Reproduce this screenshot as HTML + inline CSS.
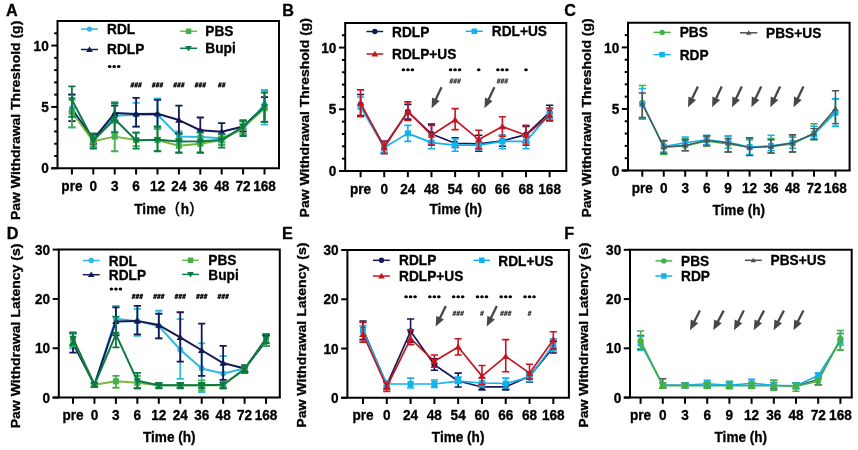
<!DOCTYPE html>
<html><head><meta charset="utf-8"><title>Figure</title>
<style>html,body{margin:0;padding:0;background:#fff;width:858px;height:450px;overflow:hidden}</style>
</head><body>
<svg width="858" height="450" viewBox="0 0 858 450" style="display:block;will-change:transform">
<rect width="858" height="450" fill="#fff"/>
<g font-family='"Liberation Sans", sans-serif'>
<path d="M57.5,168.3V21H279V168.3" fill="none" stroke="#000" stroke-width="2.0"/>
<line x1="51.3" y1="168.3" x2="280" y2="168.3" stroke="#000" stroke-width="2.0"/>
<line x1="51.3" y1="168.30" x2="57.5" y2="168.30" stroke="#000" stroke-width="2.0"/>
<text transform="translate(48.70,173.40) scale(1,1.1)" font-size="13.6" text-anchor="end" font-weight="bold" fill="#000" stroke="#000" stroke-width="0.3" >0</text>
<line x1="51.3" y1="106.93" x2="57.5" y2="106.93" stroke="#000" stroke-width="2.0"/>
<text transform="translate(48.70,112.03) scale(1,1.1)" font-size="13.6" text-anchor="end" font-weight="bold" fill="#000" stroke="#000" stroke-width="0.3" >5</text>
<line x1="51.3" y1="45.55" x2="57.5" y2="45.55" stroke="#000" stroke-width="2.0"/>
<text transform="translate(48.70,50.65) scale(1,1.1)" font-size="13.6" text-anchor="end" font-weight="bold" fill="#000" stroke="#000" stroke-width="0.3" >10</text>
<line x1="54.2" y1="156.03" x2="57.5" y2="156.03" stroke="#000" stroke-width="2.0"/>
<line x1="54.2" y1="143.75" x2="57.5" y2="143.75" stroke="#000" stroke-width="2.0"/>
<line x1="54.2" y1="131.48" x2="57.5" y2="131.48" stroke="#000" stroke-width="2.0"/>
<line x1="54.2" y1="119.20" x2="57.5" y2="119.20" stroke="#000" stroke-width="2.0"/>
<line x1="54.2" y1="94.65" x2="57.5" y2="94.65" stroke="#000" stroke-width="2.0"/>
<line x1="54.2" y1="82.38" x2="57.5" y2="82.38" stroke="#000" stroke-width="2.0"/>
<line x1="54.2" y1="70.10" x2="57.5" y2="70.10" stroke="#000" stroke-width="2.0"/>
<line x1="54.2" y1="57.83" x2="57.5" y2="57.83" stroke="#000" stroke-width="2.0"/>
<line x1="54.2" y1="33.28" x2="57.5" y2="33.28" stroke="#000" stroke-width="2.0"/>
<line x1="71.90" y1="168.3" x2="71.90" y2="174.5" stroke="#000" stroke-width="2.0"/>
<text transform="translate(71.90,190.80) scale(1,1.1)" font-size="13.6" text-anchor="middle" font-weight="bold" fill="#000" stroke="#000" stroke-width="0.3" >pre</text>
<line x1="93.30" y1="168.3" x2="93.30" y2="174.5" stroke="#000" stroke-width="2.0"/>
<text transform="translate(93.30,190.80) scale(1,1.1)" font-size="13.6" text-anchor="middle" font-weight="bold" fill="#000" stroke="#000" stroke-width="0.3" >0</text>
<line x1="114.70" y1="168.3" x2="114.70" y2="174.5" stroke="#000" stroke-width="2.0"/>
<text transform="translate(114.70,190.80) scale(1,1.1)" font-size="13.6" text-anchor="middle" font-weight="bold" fill="#000" stroke="#000" stroke-width="0.3" >3</text>
<line x1="136.10" y1="168.3" x2="136.10" y2="174.5" stroke="#000" stroke-width="2.0"/>
<text transform="translate(136.10,190.80) scale(1,1.1)" font-size="13.6" text-anchor="middle" font-weight="bold" fill="#000" stroke="#000" stroke-width="0.3" >6</text>
<line x1="157.50" y1="168.3" x2="157.50" y2="174.5" stroke="#000" stroke-width="2.0"/>
<text transform="translate(157.50,190.80) scale(1,1.1)" font-size="13.6" text-anchor="middle" font-weight="bold" fill="#000" stroke="#000" stroke-width="0.3" >12</text>
<line x1="178.90" y1="168.3" x2="178.90" y2="174.5" stroke="#000" stroke-width="2.0"/>
<text transform="translate(178.90,190.80) scale(1,1.1)" font-size="13.6" text-anchor="middle" font-weight="bold" fill="#000" stroke="#000" stroke-width="0.3" >24</text>
<line x1="200.30" y1="168.3" x2="200.30" y2="174.5" stroke="#000" stroke-width="2.0"/>
<text transform="translate(200.30,190.80) scale(1,1.1)" font-size="13.6" text-anchor="middle" font-weight="bold" fill="#000" stroke="#000" stroke-width="0.3" >36</text>
<line x1="221.70" y1="168.3" x2="221.70" y2="174.5" stroke="#000" stroke-width="2.0"/>
<text transform="translate(221.70,190.80) scale(1,1.1)" font-size="13.6" text-anchor="middle" font-weight="bold" fill="#000" stroke="#000" stroke-width="0.3" >48</text>
<line x1="243.10" y1="168.3" x2="243.10" y2="174.5" stroke="#000" stroke-width="2.0"/>
<text transform="translate(243.10,190.80) scale(1,1.1)" font-size="13.6" text-anchor="middle" font-weight="bold" fill="#000" stroke="#000" stroke-width="0.3" >72</text>
<line x1="264.50" y1="168.3" x2="264.50" y2="174.5" stroke="#000" stroke-width="2.0"/>
<text transform="translate(264.50,190.80) scale(1,1.1)" font-size="13.6" text-anchor="middle" font-weight="bold" fill="#000" stroke="#000" stroke-width="0.3" >168</text>
<text transform="translate(6.00,15.70) scale(1,1.04)" font-size="16.2" text-anchor="start" font-weight="bold" fill="#000" stroke="#000" stroke-width="0.3" >A</text>
<text transform="translate(20.40,220.00) rotate(-90)" x="0" y="0" font-size="12.9" font-weight="bold" stroke="#000" stroke-width="0.3" textLength="199.3" lengthAdjust="spacingAndGlyphs">Paw Withdrawal Threshold (g)</text>
<text transform="translate(134.30,213.50) scale(1,1.1)" font-size="13.6" text-anchor="start" font-weight="bold" fill="#000" stroke="#000" stroke-width="0.3" >Time</text>
<text transform="translate(175.10,213.10) scale(1,1.1)" font-size="13.6" text-anchor="start" font-weight="normal" fill="#000" stroke="#000" stroke-width="0.45">(</text>
<text transform="translate(180.80,213.50) scale(1,1.1)" font-size="13.6" text-anchor="start" font-weight="bold" fill="#000" stroke="#000" stroke-width="0.3" >h</text>
<text transform="translate(189.80,213.10) scale(1,1.1)" font-size="13.6" text-anchor="start" font-weight="normal" fill="#000" stroke="#000" stroke-width="0.45">)</text>
<line x1="81" y1="29.1" x2="98" y2="29.1" stroke="#2cb9e4" stroke-width="1.5"/>
<circle cx="89.50" cy="29.10" r="2.70" fill="#2cb9e4"/>
<text transform="translate(107.00,34.20) scale(1,1.1)" font-size="13.7" text-anchor="start" font-weight="bold" fill="#000" stroke="#000" stroke-width="0.3" >RDL</text>
<line x1="81" y1="49.5" x2="98" y2="49.5" stroke="#131a56" stroke-width="1.5"/>
<path d="M89.50,46.30L92.86,51.90L86.14,51.90Z" fill="#131a56"/>
<text transform="translate(107.00,54.40) scale(1,1.1)" font-size="13.7" text-anchor="start" font-weight="bold" fill="#000" stroke="#000" stroke-width="0.3" >RDLP</text>
<line x1="180" y1="31.3" x2="197" y2="31.3" stroke="#78b640" stroke-width="1.5"/>
<rect x="185.75" y="28.55" width="5.50" height="5.50" fill="#45b048"/>
<text transform="translate(205.30,35.70) scale(1,1.1)" font-size="13.7" text-anchor="start" font-weight="bold" fill="#000" stroke="#000" stroke-width="0.3" >PBS</text>
<line x1="180" y1="48.3" x2="197" y2="48.3" stroke="#0b7a44" stroke-width="1.5"/>
<path d="M188.50,51.50L191.86,45.90L185.14,45.90Z" fill="#0b7a44"/>
<text transform="translate(205.30,53.20) scale(1,1.1)" font-size="13.7" text-anchor="start" font-weight="bold" fill="#000" stroke="#000" stroke-width="0.3" >Bupi</text>
<ellipse cx="109.70" cy="66.60" rx="1.8" ry="1.5" fill="#000"/>
<ellipse cx="114.20" cy="66.60" rx="1.8" ry="1.5" fill="#000"/>
<ellipse cx="118.70" cy="66.60" rx="1.8" ry="1.5" fill="#000"/>
<path d="M132.40,82.40L131.00,87.40M133.80,82.40L132.40,87.40M130.80,83.95H134.20M130.40,85.85H133.80M136.20,82.40L134.80,87.40M137.60,82.40L136.20,87.40M134.60,83.95H138.00M134.20,85.85H137.60M140.00,82.40L138.60,87.40M141.40,82.40L140.00,87.40M138.40,83.95H141.80M138.00,85.85H141.40" stroke="#151515" stroke-width="1.1" fill="none"/>
<path d="M153.80,82.40L152.40,87.40M155.20,82.40L153.80,87.40M152.20,83.95H155.60M151.80,85.85H155.20M157.60,82.40L156.20,87.40M159.00,82.40L157.60,87.40M156.00,83.95H159.40M155.60,85.85H159.00M161.40,82.40L160.00,87.40M162.80,82.40L161.40,87.40M159.80,83.95H163.20M159.40,85.85H162.80" stroke="#151515" stroke-width="1.1" fill="none"/>
<path d="M175.20,82.40L173.80,87.40M176.60,82.40L175.20,87.40M173.60,83.95H177.00M173.20,85.85H176.60M179.00,82.40L177.60,87.40M180.40,82.40L179.00,87.40M177.40,83.95H180.80M177.00,85.85H180.40M182.80,82.40L181.40,87.40M184.20,82.40L182.80,87.40M181.20,83.95H184.60M180.80,85.85H184.20" stroke="#151515" stroke-width="1.1" fill="none"/>
<path d="M196.60,82.40L195.20,87.40M198.00,82.40L196.60,87.40M195.00,83.95H198.40M194.60,85.85H198.00M200.40,82.40L199.00,87.40M201.80,82.40L200.40,87.40M198.80,83.95H202.20M198.40,85.85H201.80M204.20,82.40L202.80,87.40M205.60,82.40L204.20,87.40M202.60,83.95H206.00M202.20,85.85H205.60" stroke="#151515" stroke-width="1.1" fill="none"/>
<path d="M219.90,82.40L218.50,87.40M221.30,82.40L219.90,87.40M218.30,83.95H221.70M217.90,85.85H221.30M223.70,82.40L222.30,87.40M225.10,82.40L223.70,87.40M222.10,83.95H225.50M221.70,85.85H225.10" stroke="#151515" stroke-width="1.1" fill="none"/>
<path d="M71.90,127.30V94.40M68.30,127.30H75.50M68.30,94.40H75.50" stroke="#2cb9e4" stroke-width="1.8" fill="none"/>
<path d="M93.30,147.43V133.93M89.70,147.43H96.90M89.70,133.93H96.90" stroke="#2cb9e4" stroke-width="1.8" fill="none"/>
<path d="M114.70,131.72V101.89M111.10,131.72H118.30M111.10,101.89H118.30" stroke="#2cb9e4" stroke-width="1.8" fill="none"/>
<path d="M136.10,126.56V102.87M132.50,126.56H139.70M132.50,102.87H139.70" stroke="#2cb9e4" stroke-width="1.8" fill="none"/>
<path d="M157.50,129.02V98.46M153.90,129.02H161.10M153.90,98.46H161.10" stroke="#2cb9e4" stroke-width="1.8" fill="none"/>
<path d="M178.90,141.30V131.48M175.30,141.30H182.50M175.30,131.48H182.50" stroke="#2cb9e4" stroke-width="1.8" fill="none"/>
<path d="M200.30,143.75V130.25M196.70,143.75H203.90M196.70,130.25H203.90" stroke="#2cb9e4" stroke-width="1.8" fill="none"/>
<path d="M221.70,142.52V133.93M218.10,142.52H225.30M218.10,133.93H225.30" stroke="#2cb9e4" stroke-width="1.8" fill="none"/>
<path d="M243.10,133.93V124.11M239.50,133.93H246.70M239.50,124.11H246.70" stroke="#2cb9e4" stroke-width="1.8" fill="none"/>
<path d="M264.50,124.60V89.99M260.90,124.60H268.10M260.90,89.99H268.10" stroke="#2cb9e4" stroke-width="1.8" fill="none"/>
<path d="M71.90,108.15L93.30,140.07L114.70,115.76L136.10,114.78L157.50,114.78L178.90,136.39L200.30,137.00L221.70,138.23L243.10,129.02L264.50,104.47" stroke="#2cb9e4" stroke-width="2.0" fill="none" stroke-linejoin="round"/>
<circle cx="71.90" cy="108.15" r="2.97" fill="#2cb9e4"/>
<circle cx="93.30" cy="140.07" r="2.97" fill="#2cb9e4"/>
<circle cx="114.70" cy="115.76" r="2.97" fill="#2cb9e4"/>
<circle cx="136.10" cy="114.78" r="2.97" fill="#2cb9e4"/>
<circle cx="157.50" cy="114.78" r="2.97" fill="#2cb9e4"/>
<circle cx="178.90" cy="136.39" r="2.97" fill="#2cb9e4"/>
<circle cx="200.30" cy="137.00" r="2.97" fill="#2cb9e4"/>
<circle cx="221.70" cy="138.23" r="2.97" fill="#2cb9e4"/>
<circle cx="243.10" cy="129.02" r="2.97" fill="#2cb9e4"/>
<circle cx="264.50" cy="104.47" r="2.97" fill="#2cb9e4"/>
<path d="M71.90,121.04V94.65M68.30,121.04H75.50M68.30,94.65H75.50" stroke="#131a56" stroke-width="1.8" fill="none"/>
<path d="M93.30,143.75V133.93M89.70,143.75H96.90M89.70,133.93H96.90" stroke="#131a56" stroke-width="1.8" fill="none"/>
<path d="M114.70,120.43V105.70M111.10,120.43H118.30M111.10,105.70H118.30" stroke="#131a56" stroke-width="1.8" fill="none"/>
<path d="M136.10,126.69V97.96M132.50,126.69H139.70M132.50,97.96H139.70" stroke="#131a56" stroke-width="1.8" fill="none"/>
<path d="M157.50,126.69V99.81M153.90,126.69H161.10M153.90,99.81H161.10" stroke="#131a56" stroke-width="1.8" fill="none"/>
<path d="M178.90,133.44V105.57M175.30,133.44H182.50M175.30,105.57H182.50" stroke="#131a56" stroke-width="1.8" fill="none"/>
<path d="M200.30,142.52V117.48M196.70,142.52H203.90M196.70,117.48H203.90" stroke="#131a56" stroke-width="1.8" fill="none"/>
<path d="M221.70,138.84V123.13M218.10,138.84H225.30M218.10,123.13H225.30" stroke="#131a56" stroke-width="1.8" fill="none"/>
<path d="M243.10,131.48V120.43M239.50,131.48H246.70M239.50,120.43H246.70" stroke="#131a56" stroke-width="1.8" fill="none"/>
<path d="M264.50,121.90V97.11M260.90,121.90H268.10M260.90,97.11H268.10" stroke="#131a56" stroke-width="1.8" fill="none"/>
<path d="M71.90,109.50L93.30,139.45L114.70,113.06L136.10,113.92L157.50,113.68L178.90,120.06L200.30,130.25L221.70,131.72L243.10,126.56L264.50,106.93" stroke="#131a56" stroke-width="2.0" fill="none" stroke-linejoin="round"/>
<path d="M71.90,105.98L75.60,112.14L68.20,112.14Z" fill="#131a56"/>
<path d="M93.30,135.93L97.00,142.09L89.60,142.09Z" fill="#131a56"/>
<path d="M114.70,109.54L118.40,115.70L111.00,115.70Z" fill="#131a56"/>
<path d="M136.10,110.40L139.80,116.56L132.40,116.56Z" fill="#131a56"/>
<path d="M157.50,110.16L161.20,116.32L153.80,116.32Z" fill="#131a56"/>
<path d="M178.90,116.54L182.60,122.70L175.20,122.70Z" fill="#131a56"/>
<path d="M200.30,126.73L204.00,132.89L196.60,132.89Z" fill="#131a56"/>
<path d="M221.70,128.20L225.40,134.36L218.00,134.36Z" fill="#131a56"/>
<path d="M243.10,123.05L246.80,129.20L239.40,129.20Z" fill="#131a56"/>
<path d="M264.50,103.41L268.20,109.57L260.80,109.57Z" fill="#131a56"/>
<path d="M71.90,127.30V99.56M68.30,127.30H75.50M68.30,99.56H75.50" stroke="#45b048" stroke-width="1.8" fill="none"/>
<path d="M93.30,146.21V136.39M89.70,146.21H96.90M89.70,136.39H96.90" stroke="#45b048" stroke-width="1.8" fill="none"/>
<path d="M114.70,151.24V122.88M111.10,151.24H118.30M111.10,122.88H118.30" stroke="#45b048" stroke-width="1.8" fill="none"/>
<path d="M136.10,146.21V132.70M132.50,146.21H139.70M132.50,132.70H139.70" stroke="#45b048" stroke-width="1.8" fill="none"/>
<path d="M157.50,151.12V127.79M153.90,151.12H161.10M153.90,127.79H161.10" stroke="#45b048" stroke-width="1.8" fill="none"/>
<path d="M178.90,153.08V138.84M175.30,153.08H182.50M175.30,138.84H182.50" stroke="#45b048" stroke-width="1.8" fill="none"/>
<path d="M200.30,153.08V136.39M196.70,153.08H203.90M196.70,136.39H203.90" stroke="#45b048" stroke-width="1.8" fill="none"/>
<path d="M221.70,144.98V136.39M218.10,144.98H225.30M218.10,136.39H225.30" stroke="#45b048" stroke-width="1.8" fill="none"/>
<path d="M243.10,133.93V121.66M239.50,133.93H246.70M239.50,121.66H246.70" stroke="#45b048" stroke-width="1.8" fill="none"/>
<path d="M264.50,121.66V92.20M260.90,121.66H268.10M260.90,92.20H268.10" stroke="#45b048" stroke-width="1.8" fill="none"/>
<path d="M71.90,111.84L93.30,141.30L114.70,136.63L136.10,140.07L157.50,140.07L178.90,145.84L200.30,143.75L221.70,140.07L243.10,127.79L264.50,108.15" stroke="#78b640" stroke-width="2.0" fill="none" stroke-linejoin="round"/>
<rect x="68.88" y="108.81" width="6.05" height="6.05" fill="#45b048"/>
<rect x="90.28" y="138.27" width="6.05" height="6.05" fill="#45b048"/>
<rect x="111.67" y="133.61" width="6.05" height="6.05" fill="#45b048"/>
<rect x="133.07" y="137.04" width="6.05" height="6.05" fill="#45b048"/>
<rect x="154.47" y="137.04" width="6.05" height="6.05" fill="#45b048"/>
<rect x="175.88" y="142.81" width="6.05" height="6.05" fill="#45b048"/>
<rect x="197.27" y="140.72" width="6.05" height="6.05" fill="#45b048"/>
<rect x="218.67" y="137.04" width="6.05" height="6.05" fill="#45b048"/>
<rect x="240.07" y="124.77" width="6.05" height="6.05" fill="#45b048"/>
<rect x="261.48" y="105.13" width="6.05" height="6.05" fill="#45b048"/>
<path d="M71.90,116.75V86.43M68.30,116.75H75.50M68.30,86.43H75.50" stroke="#0b7a44" stroke-width="1.8" fill="none"/>
<path d="M93.30,148.54V133.44M89.70,148.54H96.90M89.70,133.44H96.90" stroke="#0b7a44" stroke-width="1.8" fill="none"/>
<path d="M114.70,132.70V103.24M111.10,132.70H118.30M111.10,103.24H118.30" stroke="#0b7a44" stroke-width="1.8" fill="none"/>
<path d="M136.10,148.54V132.58M132.50,148.54H139.70M132.50,132.58H139.70" stroke="#0b7a44" stroke-width="1.8" fill="none"/>
<path d="M157.50,151.24V126.69M153.90,151.24H161.10M153.90,126.69H161.10" stroke="#0b7a44" stroke-width="1.8" fill="none"/>
<path d="M178.90,152.34V133.93M175.30,152.34H182.50M175.30,133.93H182.50" stroke="#0b7a44" stroke-width="1.8" fill="none"/>
<path d="M200.30,152.34V132.70M196.70,152.34H203.90M196.70,132.70H203.90" stroke="#0b7a44" stroke-width="1.8" fill="none"/>
<path d="M221.70,147.68V133.93M218.10,147.68H225.30M218.10,133.93H225.30" stroke="#0b7a44" stroke-width="1.8" fill="none"/>
<path d="M243.10,136.02V120.67M239.50,136.02H246.70M239.50,120.67H246.70" stroke="#0b7a44" stroke-width="1.8" fill="none"/>
<path d="M264.50,121.90V92.69M260.90,121.90H268.10M260.90,92.69H268.10" stroke="#0b7a44" stroke-width="1.8" fill="none"/>
<path d="M71.90,99.81L93.30,140.56L114.70,118.95L136.10,140.56L157.50,139.70L178.90,141.42L200.30,141.30L221.70,140.07L243.10,126.56L264.50,106.93" stroke="#0b7a44" stroke-width="2.0" fill="none" stroke-linejoin="round"/>
<path d="M71.90,103.33L75.60,97.17L68.20,97.17Z" fill="#0b7a44"/>
<path d="M93.30,144.08L97.00,137.92L89.60,137.92Z" fill="#0b7a44"/>
<path d="M114.70,122.47L118.40,116.31L111.00,116.31Z" fill="#0b7a44"/>
<path d="M136.10,144.08L139.80,137.92L132.40,137.92Z" fill="#0b7a44"/>
<path d="M157.50,143.22L161.20,137.06L153.80,137.06Z" fill="#0b7a44"/>
<path d="M178.90,144.94L182.60,138.78L175.20,138.78Z" fill="#0b7a44"/>
<path d="M200.30,144.82L204.00,138.66L196.60,138.66Z" fill="#0b7a44"/>
<path d="M221.70,143.59L225.40,137.43L218.00,137.43Z" fill="#0b7a44"/>
<path d="M243.10,130.09L246.80,123.92L239.40,123.92Z" fill="#0b7a44"/>
<path d="M264.50,110.45L268.20,104.29L260.80,104.29Z" fill="#0b7a44"/>
<path d="M345.2,171.0V22.9H566.3V171.0" fill="none" stroke="#000" stroke-width="2.0"/>
<line x1="339.0" y1="171.0" x2="567.3" y2="171.0" stroke="#000" stroke-width="2.0"/>
<line x1="339.0" y1="171.00" x2="345.2" y2="171.00" stroke="#000" stroke-width="2.0"/>
<text transform="translate(336.40,176.10) scale(1,1.1)" font-size="13.6" text-anchor="end" font-weight="bold" fill="#000" stroke="#000" stroke-width="0.3" >0</text>
<line x1="339.0" y1="109.29" x2="345.2" y2="109.29" stroke="#000" stroke-width="2.0"/>
<text transform="translate(336.40,114.39) scale(1,1.1)" font-size="13.6" text-anchor="end" font-weight="bold" fill="#000" stroke="#000" stroke-width="0.3" >5</text>
<line x1="339.0" y1="47.58" x2="345.2" y2="47.58" stroke="#000" stroke-width="2.0"/>
<text transform="translate(336.40,52.68) scale(1,1.1)" font-size="13.6" text-anchor="end" font-weight="bold" fill="#000" stroke="#000" stroke-width="0.3" >10</text>
<line x1="341.9" y1="158.66" x2="345.2" y2="158.66" stroke="#000" stroke-width="2.0"/>
<line x1="341.9" y1="146.32" x2="345.2" y2="146.32" stroke="#000" stroke-width="2.0"/>
<line x1="341.9" y1="133.97" x2="345.2" y2="133.97" stroke="#000" stroke-width="2.0"/>
<line x1="341.9" y1="121.63" x2="345.2" y2="121.63" stroke="#000" stroke-width="2.0"/>
<line x1="341.9" y1="96.95" x2="345.2" y2="96.95" stroke="#000" stroke-width="2.0"/>
<line x1="341.9" y1="84.61" x2="345.2" y2="84.61" stroke="#000" stroke-width="2.0"/>
<line x1="341.9" y1="72.27" x2="345.2" y2="72.27" stroke="#000" stroke-width="2.0"/>
<line x1="341.9" y1="59.93" x2="345.2" y2="59.93" stroke="#000" stroke-width="2.0"/>
<line x1="341.9" y1="35.24" x2="345.2" y2="35.24" stroke="#000" stroke-width="2.0"/>
<line x1="360.60" y1="171.0" x2="360.60" y2="177.2" stroke="#000" stroke-width="2.0"/>
<text transform="translate(360.60,193.50) scale(1,1.1)" font-size="13.6" text-anchor="middle" font-weight="bold" fill="#000" stroke="#000" stroke-width="0.3" >pre</text>
<line x1="384.23" y1="171.0" x2="384.23" y2="177.2" stroke="#000" stroke-width="2.0"/>
<text transform="translate(384.23,193.50) scale(1,1.1)" font-size="13.6" text-anchor="middle" font-weight="bold" fill="#000" stroke="#000" stroke-width="0.3" >0</text>
<line x1="407.86" y1="171.0" x2="407.86" y2="177.2" stroke="#000" stroke-width="2.0"/>
<text transform="translate(407.86,193.50) scale(1,1.1)" font-size="13.6" text-anchor="middle" font-weight="bold" fill="#000" stroke="#000" stroke-width="0.3" >24</text>
<line x1="431.49" y1="171.0" x2="431.49" y2="177.2" stroke="#000" stroke-width="2.0"/>
<text transform="translate(431.49,193.50) scale(1,1.1)" font-size="13.6" text-anchor="middle" font-weight="bold" fill="#000" stroke="#000" stroke-width="0.3" >48</text>
<line x1="455.12" y1="171.0" x2="455.12" y2="177.2" stroke="#000" stroke-width="2.0"/>
<text transform="translate(455.12,193.50) scale(1,1.1)" font-size="13.6" text-anchor="middle" font-weight="bold" fill="#000" stroke="#000" stroke-width="0.3" >54</text>
<line x1="478.75" y1="171.0" x2="478.75" y2="177.2" stroke="#000" stroke-width="2.0"/>
<text transform="translate(478.75,193.50) scale(1,1.1)" font-size="13.6" text-anchor="middle" font-weight="bold" fill="#000" stroke="#000" stroke-width="0.3" >60</text>
<line x1="502.38" y1="171.0" x2="502.38" y2="177.2" stroke="#000" stroke-width="2.0"/>
<text transform="translate(502.38,193.50) scale(1,1.1)" font-size="13.6" text-anchor="middle" font-weight="bold" fill="#000" stroke="#000" stroke-width="0.3" >66</text>
<line x1="526.01" y1="171.0" x2="526.01" y2="177.2" stroke="#000" stroke-width="2.0"/>
<text transform="translate(526.01,193.50) scale(1,1.1)" font-size="13.6" text-anchor="middle" font-weight="bold" fill="#000" stroke="#000" stroke-width="0.3" >68</text>
<line x1="549.64" y1="171.0" x2="549.64" y2="177.2" stroke="#000" stroke-width="2.0"/>
<text transform="translate(549.64,193.50) scale(1,1.1)" font-size="13.6" text-anchor="middle" font-weight="bold" fill="#000" stroke="#000" stroke-width="0.3" >168</text>
<text transform="translate(282.30,15.70) scale(1,1.04)" font-size="16.2" text-anchor="start" font-weight="bold" fill="#000" stroke="#000" stroke-width="0.3" >B</text>
<text transform="translate(309.30,217.40) rotate(-90)" x="0" y="0" font-size="12.9" font-weight="bold" stroke="#000" stroke-width="0.3" textLength="199.4" lengthAdjust="spacingAndGlyphs">Paw Withdrawal Threshold (g)</text>
<text transform="translate(455.75,214.30) scale(1,1.1)" font-size="13.6" text-anchor="middle" font-weight="bold" fill="#000" stroke="#000" stroke-width="0.3" >Time (h)</text>
<line x1="366.5" y1="31.5" x2="383.2" y2="31.5" stroke="#131a56" stroke-width="1.5"/>
<circle cx="374.85" cy="31.50" r="2.70" fill="#131a56"/>
<text transform="translate(392.00,36.70) scale(1,1.1)" font-size="13.7" text-anchor="start" font-weight="bold" fill="#000" stroke="#000" stroke-width="0.3" >RDLP</text>
<line x1="366.5" y1="54.0" x2="383.2" y2="54.0" stroke="#c8141f" stroke-width="1.5"/>
<path d="M374.85,50.80L378.21,56.40L371.49,56.40Z" fill="#c8141f"/>
<text transform="translate(392.00,58.80) scale(1,1.1)" font-size="13.7" text-anchor="start" font-weight="bold" fill="#000" stroke="#000" stroke-width="0.3" >RDLP+US</text>
<line x1="465.8" y1="31.3" x2="482.8" y2="31.3" stroke="#12b2ec" stroke-width="1.5"/>
<rect x="471.55" y="28.55" width="5.50" height="5.50" fill="#12b2ec"/>
<text transform="translate(491.80,36.00) scale(1,1.1)" font-size="13.7" text-anchor="start" font-weight="bold" fill="#000" stroke="#000" stroke-width="0.3" >RDL+US</text>
<ellipse cx="403.36" cy="69.80" rx="1.8" ry="1.5" fill="#000"/>
<ellipse cx="407.86" cy="69.80" rx="1.8" ry="1.5" fill="#000"/>
<ellipse cx="412.36" cy="69.80" rx="1.8" ry="1.5" fill="#000"/>
<ellipse cx="450.62" cy="69.80" rx="1.8" ry="1.5" fill="#000"/>
<ellipse cx="455.12" cy="69.80" rx="1.8" ry="1.5" fill="#000"/>
<ellipse cx="459.62" cy="69.80" rx="1.8" ry="1.5" fill="#000"/>
<ellipse cx="478.75" cy="69.80" rx="1.8" ry="1.5" fill="#000"/>
<ellipse cx="497.88" cy="69.80" rx="1.8" ry="1.5" fill="#000"/>
<ellipse cx="502.38" cy="69.80" rx="1.8" ry="1.5" fill="#000"/>
<ellipse cx="506.88" cy="69.80" rx="1.8" ry="1.5" fill="#000"/>
<ellipse cx="526.01" cy="69.80" rx="1.8" ry="1.5" fill="#000"/>
<path d="M451.42,78.50L450.02,83.50M452.82,78.50L451.42,83.50M449.82,80.05H453.22M449.42,81.95H452.82M455.22,78.50L453.82,83.50M456.62,78.50L455.22,83.50M453.62,80.05H457.02M453.22,81.95H456.62M459.02,78.50L457.62,83.50M460.42,78.50L459.02,83.50M457.42,80.05H460.82M457.02,81.95H460.42" stroke="#3a3a3a" stroke-width="0.95" fill="none"/>
<path d="M498.68,78.50L497.28,83.50M500.08,78.50L498.68,83.50M497.08,80.05H500.48M496.68,81.95H500.08M502.48,78.50L501.08,83.50M503.88,78.50L502.48,83.50M500.88,80.05H504.28M500.48,81.95H503.88M506.28,78.50L504.88,83.50M507.68,78.50L506.28,83.50M504.68,80.05H508.08M504.28,81.95H507.68" stroke="#3a3a3a" stroke-width="0.95" fill="none"/>
<line x1="441.50" y1="87.20" x2="435.00" y2="101.06" stroke="#474747" stroke-width="2.3"/>
<path d="M431.60,108.30L432.05,97.46L439.65,101.03Z" fill="#474747"/>
<line x1="494.40" y1="87.20" x2="487.90" y2="101.06" stroke="#474747" stroke-width="2.3"/>
<path d="M484.50,108.30L484.95,97.46L492.55,101.03Z" fill="#474747"/>
<path d="M360.60,115.46V94.48M357.00,115.46H364.20M357.00,94.48H364.20" stroke="#131a56" stroke-width="1.6" fill="none"/>
<path d="M384.23,152.49V141.38M380.63,152.49H387.83M380.63,141.38H387.83" stroke="#131a56" stroke-width="1.6" fill="none"/>
<path d="M407.86,119.16V104.36M404.26,119.16H411.46M404.26,104.36H411.46" stroke="#131a56" stroke-width="1.6" fill="none"/>
<path d="M431.49,142.61V124.10M427.89,142.61H435.09M427.89,124.10H435.09" stroke="#131a56" stroke-width="1.6" fill="none"/>
<path d="M455.12,147.55V137.68M451.52,147.55H458.72M451.52,137.68H458.72" stroke="#131a56" stroke-width="1.6" fill="none"/>
<path d="M478.75,151.25V135.21M475.15,151.25H482.35M475.15,135.21H482.35" stroke="#131a56" stroke-width="1.6" fill="none"/>
<path d="M502.38,146.32V135.21M498.78,146.32H505.98M498.78,135.21H505.98" stroke="#131a56" stroke-width="1.6" fill="none"/>
<path d="M526.01,142.61V126.57M522.41,142.61H529.61M522.41,126.57H529.61" stroke="#131a56" stroke-width="1.6" fill="none"/>
<path d="M549.64,120.40V105.22M546.04,120.40H553.24M546.04,105.22H553.24" stroke="#131a56" stroke-width="1.6" fill="none"/>
<path d="M360.60,104.36L384.23,146.32L407.86,111.76L431.49,133.97L455.12,143.23L478.75,143.85L502.38,140.76L526.01,134.59L549.64,112.38" stroke="#131a56" stroke-width="1.7" fill="none" stroke-linejoin="round"/>
<circle cx="360.60" cy="104.36" r="2.97" fill="#131a56"/>
<circle cx="384.23" cy="146.32" r="2.97" fill="#131a56"/>
<circle cx="407.86" cy="111.76" r="2.97" fill="#131a56"/>
<circle cx="431.49" cy="133.97" r="2.97" fill="#131a56"/>
<circle cx="455.12" cy="143.23" r="2.97" fill="#131a56"/>
<circle cx="478.75" cy="143.85" r="2.97" fill="#131a56"/>
<circle cx="502.38" cy="140.76" r="2.97" fill="#131a56"/>
<circle cx="526.01" cy="134.59" r="2.97" fill="#131a56"/>
<circle cx="549.64" cy="112.38" r="2.97" fill="#131a56"/>
<path d="M360.60,116.70V96.95M357.00,116.70H364.20M357.00,96.95H364.20" stroke="#12b2ec" stroke-width="1.6" fill="none"/>
<path d="M384.23,152.49V142.61M380.63,152.49H387.83M380.63,142.61H387.83" stroke="#12b2ec" stroke-width="1.6" fill="none"/>
<path d="M407.86,141.38V125.34M404.26,141.38H411.46M404.26,125.34H411.46" stroke="#12b2ec" stroke-width="1.6" fill="none"/>
<path d="M431.49,148.78V135.21M427.89,148.78H435.09M427.89,135.21H435.09" stroke="#12b2ec" stroke-width="1.6" fill="none"/>
<path d="M455.12,151.25V138.91M451.52,151.25H458.72M451.52,138.91H458.72" stroke="#12b2ec" stroke-width="1.6" fill="none"/>
<path d="M478.75,150.02V138.91M475.15,150.02H482.35M475.15,138.91H482.35" stroke="#12b2ec" stroke-width="1.6" fill="none"/>
<path d="M502.38,148.78V135.21M498.78,148.78H505.98M498.78,135.21H505.98" stroke="#12b2ec" stroke-width="1.6" fill="none"/>
<path d="M526.01,148.78V135.21M522.41,148.78H529.61M522.41,135.21H529.61" stroke="#12b2ec" stroke-width="1.6" fill="none"/>
<path d="M549.64,119.16V109.29M546.04,119.16H553.24M546.04,109.29H553.24" stroke="#12b2ec" stroke-width="1.6" fill="none"/>
<path d="M360.60,106.82L384.23,147.55L407.86,133.36L431.49,142.61L455.12,145.08L478.75,145.08L502.38,141.38L526.01,141.38L549.64,114.23" stroke="#12b2ec" stroke-width="1.7" fill="none" stroke-linejoin="round"/>
<rect x="357.58" y="103.80" width="6.05" height="6.05" fill="#12b2ec"/>
<rect x="381.21" y="144.53" width="6.05" height="6.05" fill="#12b2ec"/>
<rect x="404.84" y="130.33" width="6.05" height="6.05" fill="#12b2ec"/>
<rect x="428.47" y="139.59" width="6.05" height="6.05" fill="#12b2ec"/>
<rect x="452.10" y="142.06" width="6.05" height="6.05" fill="#12b2ec"/>
<rect x="475.73" y="142.06" width="6.05" height="6.05" fill="#12b2ec"/>
<rect x="499.36" y="138.35" width="6.05" height="6.05" fill="#12b2ec"/>
<rect x="522.99" y="138.35" width="6.05" height="6.05" fill="#12b2ec"/>
<rect x="546.62" y="111.20" width="6.05" height="6.05" fill="#12b2ec"/>
<path d="M360.60,116.45V89.92M357.00,116.45H364.20M357.00,89.92H364.20" stroke="#c8141f" stroke-width="1.6" fill="none"/>
<path d="M384.23,153.72V141.38M380.63,153.72H387.83M380.63,141.38H387.83" stroke="#c8141f" stroke-width="1.6" fill="none"/>
<path d="M407.86,120.40V101.89M404.26,120.40H411.46M404.26,101.89H411.46" stroke="#c8141f" stroke-width="1.6" fill="none"/>
<path d="M431.49,145.08V125.34M427.89,145.08H435.09M427.89,125.34H435.09" stroke="#c8141f" stroke-width="1.6" fill="none"/>
<path d="M455.12,129.66V108.67M451.52,129.66H458.72M451.52,108.67H458.72" stroke="#c8141f" stroke-width="1.6" fill="none"/>
<path d="M478.75,148.78V130.27M475.15,148.78H482.35M475.15,130.27H482.35" stroke="#c8141f" stroke-width="1.6" fill="none"/>
<path d="M502.38,136.44V116.70M498.78,136.44H505.98M498.78,116.70H505.98" stroke="#c8141f" stroke-width="1.6" fill="none"/>
<path d="M526.01,145.08V125.34M522.41,145.08H529.61M522.41,125.34H529.61" stroke="#c8141f" stroke-width="1.6" fill="none"/>
<path d="M549.64,121.02V108.06M546.04,121.02H553.24M546.04,108.06H553.24" stroke="#c8141f" stroke-width="1.6" fill="none"/>
<path d="M360.60,103.12L384.23,147.55L407.86,111.14L431.49,135.21L455.12,119.78L478.75,139.53L502.38,126.57L526.01,135.21L549.64,115.46" stroke="#c8141f" stroke-width="1.7" fill="none" stroke-linejoin="round"/>
<path d="M360.60,99.60L364.30,105.76L356.90,105.76Z" fill="#c8141f"/>
<path d="M384.23,144.03L387.93,150.19L380.53,150.19Z" fill="#c8141f"/>
<path d="M407.86,107.62L411.56,113.78L404.16,113.78Z" fill="#c8141f"/>
<path d="M431.49,131.69L435.19,137.85L427.79,137.85Z" fill="#c8141f"/>
<path d="M455.12,116.26L458.82,122.42L451.42,122.42Z" fill="#c8141f"/>
<path d="M478.75,136.01L482.45,142.17L475.05,142.17Z" fill="#c8141f"/>
<path d="M502.38,123.05L506.08,129.21L498.68,129.21Z" fill="#c8141f"/>
<path d="M526.01,131.69L529.71,137.85L522.31,137.85Z" fill="#c8141f"/>
<path d="M549.64,111.94L553.34,118.10L545.94,118.10Z" fill="#c8141f"/>
<path d="M628,170.5V22.8H849.6V170.5" fill="none" stroke="#000" stroke-width="2.0"/>
<line x1="621.8" y1="170.5" x2="850.6" y2="170.5" stroke="#000" stroke-width="2.0"/>
<line x1="621.8" y1="170.50" x2="628" y2="170.50" stroke="#000" stroke-width="2.0"/>
<text transform="translate(619.20,175.60) scale(1,1.1)" font-size="13.6" text-anchor="end" font-weight="bold" fill="#000" stroke="#000" stroke-width="0.3" >0</text>
<line x1="621.8" y1="108.96" x2="628" y2="108.96" stroke="#000" stroke-width="2.0"/>
<text transform="translate(619.20,114.06) scale(1,1.1)" font-size="13.6" text-anchor="end" font-weight="bold" fill="#000" stroke="#000" stroke-width="0.3" >5</text>
<line x1="621.8" y1="47.42" x2="628" y2="47.42" stroke="#000" stroke-width="2.0"/>
<text transform="translate(619.20,52.52) scale(1,1.1)" font-size="13.6" text-anchor="end" font-weight="bold" fill="#000" stroke="#000" stroke-width="0.3" >10</text>
<line x1="624.7" y1="158.19" x2="628" y2="158.19" stroke="#000" stroke-width="2.0"/>
<line x1="624.7" y1="145.88" x2="628" y2="145.88" stroke="#000" stroke-width="2.0"/>
<line x1="624.7" y1="133.57" x2="628" y2="133.57" stroke="#000" stroke-width="2.0"/>
<line x1="624.7" y1="121.27" x2="628" y2="121.27" stroke="#000" stroke-width="2.0"/>
<line x1="624.7" y1="96.65" x2="628" y2="96.65" stroke="#000" stroke-width="2.0"/>
<line x1="624.7" y1="84.34" x2="628" y2="84.34" stroke="#000" stroke-width="2.0"/>
<line x1="624.7" y1="72.03" x2="628" y2="72.03" stroke="#000" stroke-width="2.0"/>
<line x1="624.7" y1="59.73" x2="628" y2="59.73" stroke="#000" stroke-width="2.0"/>
<line x1="624.7" y1="35.11" x2="628" y2="35.11" stroke="#000" stroke-width="2.0"/>
<line x1="642.30" y1="170.5" x2="642.30" y2="176.7" stroke="#000" stroke-width="2.0"/>
<text transform="translate(642.30,193.00) scale(1,1.1)" font-size="13.6" text-anchor="middle" font-weight="bold" fill="#000" stroke="#000" stroke-width="0.3" >pre</text>
<line x1="663.76" y1="170.5" x2="663.76" y2="176.7" stroke="#000" stroke-width="2.0"/>
<text transform="translate(663.76,193.00) scale(1,1.1)" font-size="13.6" text-anchor="middle" font-weight="bold" fill="#000" stroke="#000" stroke-width="0.3" >0</text>
<line x1="685.22" y1="170.5" x2="685.22" y2="176.7" stroke="#000" stroke-width="2.0"/>
<text transform="translate(685.22,193.00) scale(1,1.1)" font-size="13.6" text-anchor="middle" font-weight="bold" fill="#000" stroke="#000" stroke-width="0.3" >3</text>
<line x1="706.68" y1="170.5" x2="706.68" y2="176.7" stroke="#000" stroke-width="2.0"/>
<text transform="translate(706.68,193.00) scale(1,1.1)" font-size="13.6" text-anchor="middle" font-weight="bold" fill="#000" stroke="#000" stroke-width="0.3" >6</text>
<line x1="728.14" y1="170.5" x2="728.14" y2="176.7" stroke="#000" stroke-width="2.0"/>
<text transform="translate(728.14,193.00) scale(1,1.1)" font-size="13.6" text-anchor="middle" font-weight="bold" fill="#000" stroke="#000" stroke-width="0.3" >9</text>
<line x1="749.60" y1="170.5" x2="749.60" y2="176.7" stroke="#000" stroke-width="2.0"/>
<text transform="translate(749.60,193.00) scale(1,1.1)" font-size="13.6" text-anchor="middle" font-weight="bold" fill="#000" stroke="#000" stroke-width="0.3" >12</text>
<line x1="771.06" y1="170.5" x2="771.06" y2="176.7" stroke="#000" stroke-width="2.0"/>
<text transform="translate(771.06,193.00) scale(1,1.1)" font-size="13.6" text-anchor="middle" font-weight="bold" fill="#000" stroke="#000" stroke-width="0.3" >36</text>
<line x1="792.52" y1="170.5" x2="792.52" y2="176.7" stroke="#000" stroke-width="2.0"/>
<text transform="translate(792.52,193.00) scale(1,1.1)" font-size="13.6" text-anchor="middle" font-weight="bold" fill="#000" stroke="#000" stroke-width="0.3" >48</text>
<line x1="813.98" y1="170.5" x2="813.98" y2="176.7" stroke="#000" stroke-width="2.0"/>
<text transform="translate(813.98,193.00) scale(1,1.1)" font-size="13.6" text-anchor="middle" font-weight="bold" fill="#000" stroke="#000" stroke-width="0.3" >72</text>
<line x1="835.44" y1="170.5" x2="835.44" y2="176.7" stroke="#000" stroke-width="2.0"/>
<text transform="translate(835.44,193.00) scale(1,1.1)" font-size="13.6" text-anchor="middle" font-weight="bold" fill="#000" stroke="#000" stroke-width="0.3" >168</text>
<text transform="translate(564.30,15.80) scale(1,1.04)" font-size="16.2" text-anchor="start" font-weight="bold" fill="#000" stroke="#000" stroke-width="0.3" >C</text>
<text transform="translate(590.70,217.60) rotate(-90)" x="0" y="0" font-size="12.9" font-weight="bold" stroke="#000" stroke-width="0.3" textLength="199.3" lengthAdjust="spacingAndGlyphs">Paw Withdrawal Threshold (g)</text>
<text transform="translate(738.80,214.60) scale(1,1.1)" font-size="13.6" text-anchor="middle" font-weight="bold" fill="#000" stroke="#000" stroke-width="0.3" >Time (h)</text>
<line x1="653.6" y1="32.4" x2="670.6" y2="32.4" stroke="#45b048" stroke-width="1.5"/>
<circle cx="662.10" cy="32.40" r="2.70" fill="#45b048"/>
<text transform="translate(679.70,37.30) scale(1,1.1)" font-size="13.7" text-anchor="start" font-weight="bold" fill="#000" stroke="#000" stroke-width="0.3" >PBS</text>
<line x1="653.6" y1="54.6" x2="670.6" y2="54.6" stroke="#12b2ec" stroke-width="1.5"/>
<rect x="659.35" y="51.85" width="5.50" height="5.50" fill="#12b2ec"/>
<text transform="translate(679.70,60.00) scale(1,1.1)" font-size="13.7" text-anchor="start" font-weight="bold" fill="#000" stroke="#000" stroke-width="0.3" >RDP</text>
<line x1="740.0" y1="32.8" x2="757.3" y2="32.8" stroke="#505050" stroke-width="1.5"/>
<path d="M748.65,30.24L751.34,34.72L745.96,34.72Z" fill="#505050"/>
<text transform="translate(766.10,38.00) scale(1,1.1)" font-size="13.7" text-anchor="start" font-weight="bold" fill="#000" stroke="#000" stroke-width="0.3" >PBS+US</text>
<line x1="697.90" y1="86.40" x2="691.42" y2="100.07" stroke="#474747" stroke-width="2.3"/>
<path d="M688.00,107.30L688.49,96.46L696.08,100.06Z" fill="#474747"/>
<line x1="721.70" y1="86.40" x2="715.44" y2="100.03" stroke="#474747" stroke-width="2.3"/>
<path d="M712.10,107.30L712.46,96.46L720.09,99.97Z" fill="#474747"/>
<line x1="741.80" y1="86.40" x2="735.40" y2="100.06" stroke="#474747" stroke-width="2.3"/>
<path d="M732.00,107.30L732.44,96.46L740.05,100.03Z" fill="#474747"/>
<line x1="761.20" y1="86.40" x2="754.80" y2="100.06" stroke="#474747" stroke-width="2.3"/>
<path d="M751.40,107.30L751.84,96.46L759.45,100.03Z" fill="#474747"/>
<line x1="780.10" y1="86.40" x2="773.70" y2="100.06" stroke="#474747" stroke-width="2.3"/>
<path d="M770.30,107.30L770.74,96.46L778.35,100.03Z" fill="#474747"/>
<line x1="803.40" y1="86.40" x2="797.00" y2="100.06" stroke="#474747" stroke-width="2.3"/>
<path d="M793.60,107.30L794.04,96.46L801.65,100.03Z" fill="#474747"/>
<path d="M642.30,118.81V85.57M638.70,118.81H645.90M638.70,85.57H645.90" stroke="#45b048" stroke-width="1.5" fill="none"/>
<path d="M663.76,154.50V140.96M660.16,154.50H667.36M660.16,140.96H667.36" stroke="#45b048" stroke-width="1.5" fill="none"/>
<path d="M685.22,150.81V138.50M681.62,150.81H688.82M681.62,138.50H688.82" stroke="#45b048" stroke-width="1.5" fill="none"/>
<path d="M706.68,145.88V136.04M703.08,145.88H710.28M703.08,136.04H710.28" stroke="#45b048" stroke-width="1.5" fill="none"/>
<path d="M728.14,152.04V136.04M724.54,152.04H731.74M724.54,136.04H731.74" stroke="#45b048" stroke-width="1.5" fill="none"/>
<path d="M749.60,155.11V139.73M746.00,155.11H753.20M746.00,139.73H753.20" stroke="#45b048" stroke-width="1.5" fill="none"/>
<path d="M771.06,153.27V138.50M767.46,153.27H774.66M767.46,138.50H774.66" stroke="#45b048" stroke-width="1.5" fill="none"/>
<path d="M792.52,152.04V136.04M788.92,152.04H796.12M788.92,136.04H796.12" stroke="#45b048" stroke-width="1.5" fill="none"/>
<path d="M813.98,139.73V123.73M810.38,139.73H817.58M810.38,123.73H817.58" stroke="#45b048" stroke-width="1.5" fill="none"/>
<path d="M835.44,126.19V99.11M831.84,126.19H839.04M831.84,99.11H839.04" stroke="#45b048" stroke-width="1.5" fill="none"/>
<path d="M642.30,102.80L663.76,147.11L685.22,145.88L706.68,140.96L728.14,144.04L749.60,147.11L771.06,146.50L792.52,144.04L813.98,132.96L835.44,111.42" stroke="#45b048" stroke-width="1.6" fill="none" stroke-linejoin="round"/>
<circle cx="642.30" cy="102.80" r="2.97" fill="#45b048"/>
<circle cx="663.76" cy="147.11" r="2.97" fill="#45b048"/>
<circle cx="685.22" cy="145.88" r="2.97" fill="#45b048"/>
<circle cx="706.68" cy="140.96" r="2.97" fill="#45b048"/>
<circle cx="728.14" cy="144.04" r="2.97" fill="#45b048"/>
<circle cx="749.60" cy="147.11" r="2.97" fill="#45b048"/>
<circle cx="771.06" cy="146.50" r="2.97" fill="#45b048"/>
<circle cx="792.52" cy="144.04" r="2.97" fill="#45b048"/>
<circle cx="813.98" cy="132.96" r="2.97" fill="#45b048"/>
<circle cx="835.44" cy="111.42" r="2.97" fill="#45b048"/>
<path d="M642.30,119.17V88.53M638.70,119.17H645.90M638.70,88.53H645.90" stroke="#12b2ec" stroke-width="1.5" fill="none"/>
<path d="M663.76,152.04V140.96M660.16,152.04H667.36M660.16,140.96H667.36" stroke="#12b2ec" stroke-width="1.5" fill="none"/>
<path d="M685.22,145.88V137.02M681.62,145.88H688.82M681.62,137.02H688.82" stroke="#12b2ec" stroke-width="1.5" fill="none"/>
<path d="M706.68,144.65V135.18M703.08,144.65H710.28M703.08,135.18H710.28" stroke="#12b2ec" stroke-width="1.5" fill="none"/>
<path d="M728.14,148.34V136.04M724.54,148.34H731.74M724.54,136.04H731.74" stroke="#12b2ec" stroke-width="1.5" fill="none"/>
<path d="M749.60,154.50V138.50M746.00,154.50H753.20M746.00,138.50H753.20" stroke="#12b2ec" stroke-width="1.5" fill="none"/>
<path d="M771.06,150.81V135.18M767.46,150.81H774.66M767.46,135.18H774.66" stroke="#12b2ec" stroke-width="1.5" fill="none"/>
<path d="M792.52,148.34V137.27M788.92,148.34H796.12M788.92,137.27H796.12" stroke="#12b2ec" stroke-width="1.5" fill="none"/>
<path d="M813.98,138.50V126.19M810.38,138.50H817.58M810.38,126.19H817.58" stroke="#12b2ec" stroke-width="1.5" fill="none"/>
<path d="M835.44,126.56V98.74M831.84,126.56H839.04M831.84,98.74H839.04" stroke="#12b2ec" stroke-width="1.5" fill="none"/>
<path d="M642.30,104.03L663.76,146.50L685.22,142.81L706.68,139.73L728.14,142.19L749.60,147.11L771.06,145.88L792.52,142.81L813.98,134.19L835.44,112.65" stroke="#12b2ec" stroke-width="1.6" fill="none" stroke-linejoin="round"/>
<rect x="639.27" y="101.01" width="6.05" height="6.05" fill="#12b2ec"/>
<rect x="660.74" y="143.47" width="6.05" height="6.05" fill="#12b2ec"/>
<rect x="682.19" y="139.78" width="6.05" height="6.05" fill="#12b2ec"/>
<rect x="703.65" y="136.70" width="6.05" height="6.05" fill="#12b2ec"/>
<rect x="725.12" y="139.17" width="6.05" height="6.05" fill="#12b2ec"/>
<rect x="746.57" y="144.09" width="6.05" height="6.05" fill="#12b2ec"/>
<rect x="768.03" y="142.86" width="6.05" height="6.05" fill="#12b2ec"/>
<rect x="789.50" y="139.78" width="6.05" height="6.05" fill="#12b2ec"/>
<rect x="810.96" y="131.17" width="6.05" height="6.05" fill="#12b2ec"/>
<rect x="832.41" y="109.63" width="6.05" height="6.05" fill="#12b2ec"/>
<path d="M642.30,117.45V92.96M638.70,117.45H645.90M638.70,92.96H645.90" stroke="#505050" stroke-width="1.4" fill="none"/>
<path d="M663.76,153.27V140.47M660.16,153.27H667.36M660.16,140.47H667.36" stroke="#505050" stroke-width="1.4" fill="none"/>
<path d="M685.22,150.81V139.73M681.62,150.81H688.82M681.62,139.73H688.82" stroke="#505050" stroke-width="1.4" fill="none"/>
<path d="M706.68,145.88V136.04M703.08,145.88H710.28M703.08,136.04H710.28" stroke="#505050" stroke-width="1.4" fill="none"/>
<path d="M728.14,152.04V138.50M724.54,152.04H731.74M724.54,138.50H731.74" stroke="#505050" stroke-width="1.4" fill="none"/>
<path d="M749.60,155.61V137.76M746.00,155.61H753.20M746.00,137.76H753.20" stroke="#505050" stroke-width="1.4" fill="none"/>
<path d="M771.06,153.02V139.73M767.46,153.02H774.66M767.46,139.73H774.66" stroke="#505050" stroke-width="1.4" fill="none"/>
<path d="M792.52,152.04V134.81M788.92,152.04H796.12M788.92,134.81H796.12" stroke="#505050" stroke-width="1.4" fill="none"/>
<path d="M813.98,139.61V128.65M810.38,139.61H817.58M810.38,128.65H817.58" stroke="#505050" stroke-width="1.4" fill="none"/>
<path d="M835.44,123.61V90.74M831.84,123.61H839.04M831.84,90.74H839.04" stroke="#505050" stroke-width="1.4" fill="none"/>
<path d="M642.30,103.42L663.76,147.11L685.22,145.27L706.68,140.34L728.14,142.81L749.60,147.73L771.06,146.50L792.52,142.81L813.98,133.57L835.44,108.47" stroke="#505050" stroke-width="1.3" fill="none" stroke-linejoin="round"/>
<path d="M642.30,100.86L644.99,105.34L639.61,105.34Z" fill="#505050"/>
<path d="M663.76,144.55L666.45,149.03L661.07,149.03Z" fill="#505050"/>
<path d="M685.22,142.71L687.91,147.19L682.53,147.19Z" fill="#505050"/>
<path d="M706.68,137.78L709.37,142.26L703.99,142.26Z" fill="#505050"/>
<path d="M728.14,140.25L730.83,144.73L725.45,144.73Z" fill="#505050"/>
<path d="M749.60,145.17L752.29,149.65L746.91,149.65Z" fill="#505050"/>
<path d="M771.06,143.94L773.75,148.42L768.37,148.42Z" fill="#505050"/>
<path d="M792.52,140.25L795.21,144.73L789.83,144.73Z" fill="#505050"/>
<path d="M813.98,131.01L816.67,135.49L811.29,135.49Z" fill="#505050"/>
<path d="M835.44,105.91L838.13,110.39L832.75,110.39Z" fill="#505050"/>
<path d="M58.8,397.6V249.6H279.8V397.6" fill="none" stroke="#000" stroke-width="2.0"/>
<line x1="52.599999999999994" y1="397.6" x2="280.8" y2="397.6" stroke="#000" stroke-width="2.0"/>
<line x1="52.599999999999994" y1="397.60" x2="58.8" y2="397.60" stroke="#000" stroke-width="2.0"/>
<text transform="translate(50.00,402.70) scale(1,1.1)" font-size="13.6" text-anchor="end" font-weight="bold" fill="#000" stroke="#000" stroke-width="0.3" >0</text>
<line x1="52.599999999999994" y1="348.27" x2="58.8" y2="348.27" stroke="#000" stroke-width="2.0"/>
<text transform="translate(50.00,353.37) scale(1,1.1)" font-size="13.6" text-anchor="end" font-weight="bold" fill="#000" stroke="#000" stroke-width="0.3" >10</text>
<line x1="52.599999999999994" y1="298.93" x2="58.8" y2="298.93" stroke="#000" stroke-width="2.0"/>
<text transform="translate(50.00,304.03) scale(1,1.1)" font-size="13.6" text-anchor="end" font-weight="bold" fill="#000" stroke="#000" stroke-width="0.3" >20</text>
<line x1="52.599999999999994" y1="249.60" x2="58.8" y2="249.60" stroke="#000" stroke-width="2.0"/>
<text transform="translate(50.00,254.70) scale(1,1.1)" font-size="13.6" text-anchor="end" font-weight="bold" fill="#000" stroke="#000" stroke-width="0.3" >30</text>
<line x1="73.00" y1="397.6" x2="73.00" y2="403.8" stroke="#000" stroke-width="2.0"/>
<text transform="translate(73.00,420.10) scale(1,1.1)" font-size="13.6" text-anchor="middle" font-weight="bold" fill="#000" stroke="#000" stroke-width="0.3" >pre</text>
<line x1="94.45" y1="397.6" x2="94.45" y2="403.8" stroke="#000" stroke-width="2.0"/>
<text transform="translate(94.45,420.10) scale(1,1.1)" font-size="13.6" text-anchor="middle" font-weight="bold" fill="#000" stroke="#000" stroke-width="0.3" >0</text>
<line x1="115.90" y1="397.6" x2="115.90" y2="403.8" stroke="#000" stroke-width="2.0"/>
<text transform="translate(115.90,420.10) scale(1,1.1)" font-size="13.6" text-anchor="middle" font-weight="bold" fill="#000" stroke="#000" stroke-width="0.3" >3</text>
<line x1="137.35" y1="397.6" x2="137.35" y2="403.8" stroke="#000" stroke-width="2.0"/>
<text transform="translate(137.35,420.10) scale(1,1.1)" font-size="13.6" text-anchor="middle" font-weight="bold" fill="#000" stroke="#000" stroke-width="0.3" >6</text>
<line x1="158.80" y1="397.6" x2="158.80" y2="403.8" stroke="#000" stroke-width="2.0"/>
<text transform="translate(158.80,420.10) scale(1,1.1)" font-size="13.6" text-anchor="middle" font-weight="bold" fill="#000" stroke="#000" stroke-width="0.3" >12</text>
<line x1="180.25" y1="397.6" x2="180.25" y2="403.8" stroke="#000" stroke-width="2.0"/>
<text transform="translate(180.25,420.10) scale(1,1.1)" font-size="13.6" text-anchor="middle" font-weight="bold" fill="#000" stroke="#000" stroke-width="0.3" >24</text>
<line x1="201.70" y1="397.6" x2="201.70" y2="403.8" stroke="#000" stroke-width="2.0"/>
<text transform="translate(201.70,420.10) scale(1,1.1)" font-size="13.6" text-anchor="middle" font-weight="bold" fill="#000" stroke="#000" stroke-width="0.3" >36</text>
<line x1="223.15" y1="397.6" x2="223.15" y2="403.8" stroke="#000" stroke-width="2.0"/>
<text transform="translate(223.15,420.10) scale(1,1.1)" font-size="13.6" text-anchor="middle" font-weight="bold" fill="#000" stroke="#000" stroke-width="0.3" >48</text>
<line x1="244.60" y1="397.6" x2="244.60" y2="403.8" stroke="#000" stroke-width="2.0"/>
<text transform="translate(244.60,420.10) scale(1,1.1)" font-size="13.6" text-anchor="middle" font-weight="bold" fill="#000" stroke="#000" stroke-width="0.3" >72</text>
<line x1="266.05" y1="397.6" x2="266.05" y2="403.8" stroke="#000" stroke-width="2.0"/>
<text transform="translate(266.05,420.10) scale(1,1.1)" font-size="13.6" text-anchor="middle" font-weight="bold" fill="#000" stroke="#000" stroke-width="0.3" >168</text>
<text transform="translate(6.70,238.50) scale(1,1.04)" font-size="16.2" text-anchor="start" font-weight="bold" fill="#000" stroke="#000" stroke-width="0.3" >D</text>
<text transform="translate(19.50,428.30) rotate(-90)" x="0" y="0" font-size="12.9" font-weight="bold" stroke="#000" stroke-width="0.3" textLength="184.8" lengthAdjust="spacingAndGlyphs">Paw Withdrawal Latency (s)</text>
<text transform="translate(169.30,442.40) scale(1,1.1)" font-size="13.6" text-anchor="middle" font-weight="bold" fill="#000" stroke="#000" stroke-width="0.3" >Time (h)</text>
<line x1="82.8" y1="260.5" x2="99.7" y2="260.5" stroke="#2cb9e4" stroke-width="1.5"/>
<circle cx="91.25" cy="260.50" r="2.70" fill="#2cb9e4"/>
<text transform="translate(108.80,265.70) scale(1,1.1)" font-size="13.7" text-anchor="start" font-weight="bold" fill="#000" stroke="#000" stroke-width="0.3" >RDL</text>
<line x1="82.8" y1="274.7" x2="99.7" y2="274.7" stroke="#131a56" stroke-width="1.5"/>
<path d="M91.25,271.50L94.61,277.10L87.89,277.10Z" fill="#131a56"/>
<text transform="translate(108.80,279.70) scale(1,1.1)" font-size="13.7" text-anchor="start" font-weight="bold" fill="#000" stroke="#000" stroke-width="0.3" >RDLP</text>
<line x1="182.2" y1="260.3" x2="198.8" y2="260.3" stroke="#78b640" stroke-width="1.5"/>
<rect x="187.75" y="257.55" width="5.50" height="5.50" fill="#45b048"/>
<text transform="translate(208.30,265.40) scale(1,1.1)" font-size="13.7" text-anchor="start" font-weight="bold" fill="#000" stroke="#000" stroke-width="0.3" >PBS</text>
<line x1="182.2" y1="274.4" x2="198.8" y2="274.4" stroke="#0b7a44" stroke-width="1.5"/>
<path d="M190.50,277.60L193.86,272.00L187.14,272.00Z" fill="#0b7a44"/>
<text transform="translate(208.30,279.70) scale(1,1.1)" font-size="13.7" text-anchor="start" font-weight="bold" fill="#000" stroke="#000" stroke-width="0.3" >Bupi</text>
<ellipse cx="111.40" cy="289.00" rx="1.8" ry="1.5" fill="#000"/>
<ellipse cx="115.90" cy="289.00" rx="1.8" ry="1.5" fill="#000"/>
<ellipse cx="120.40" cy="289.00" rx="1.8" ry="1.5" fill="#000"/>
<path d="M133.65,293.80L132.25,298.80M135.05,293.80L133.65,298.80M132.05,295.35H135.45M131.65,297.25H135.05M137.45,293.80L136.05,298.80M138.85,293.80L137.45,298.80M135.85,295.35H139.25M135.45,297.25H138.85M141.25,293.80L139.85,298.80M142.65,293.80L141.25,298.80M139.65,295.35H143.05M139.25,297.25H142.65" stroke="#151515" stroke-width="1.1" fill="none"/>
<path d="M155.10,293.80L153.70,298.80M156.50,293.80L155.10,298.80M153.50,295.35H156.90M153.10,297.25H156.50M158.90,293.80L157.50,298.80M160.30,293.80L158.90,298.80M157.30,295.35H160.70M156.90,297.25H160.30M162.70,293.80L161.30,298.80M164.10,293.80L162.70,298.80M161.10,295.35H164.50M160.70,297.25H164.10" stroke="#151515" stroke-width="1.1" fill="none"/>
<path d="M176.55,293.80L175.15,298.80M177.95,293.80L176.55,298.80M174.95,295.35H178.35M174.55,297.25H177.95M180.35,293.80L178.95,298.80M181.75,293.80L180.35,298.80M178.75,295.35H182.15M178.35,297.25H181.75M184.15,293.80L182.75,298.80M185.55,293.80L184.15,298.80M182.55,295.35H185.95M182.15,297.25H185.55" stroke="#151515" stroke-width="1.1" fill="none"/>
<path d="M198.00,293.80L196.60,298.80M199.40,293.80L198.00,298.80M196.40,295.35H199.80M196.00,297.25H199.40M201.80,293.80L200.40,298.80M203.20,293.80L201.80,298.80M200.20,295.35H203.60M199.80,297.25H203.20M205.60,293.80L204.20,298.80M207.00,293.80L205.60,298.80M204.00,295.35H207.40M203.60,297.25H207.00" stroke="#151515" stroke-width="1.1" fill="none"/>
<path d="M219.45,293.80L218.05,298.80M220.85,293.80L219.45,298.80M217.85,295.35H221.25M217.45,297.25H220.85M223.25,293.80L221.85,298.80M224.65,293.80L223.25,298.80M221.65,295.35H225.05M221.25,297.25H224.65M227.05,293.80L225.65,298.80M228.45,293.80L227.05,298.80M225.45,295.35H228.85M225.05,297.25H228.45" stroke="#151515" stroke-width="1.1" fill="none"/>
<path d="M73.00,348.27V333.47M69.40,348.27H76.60M69.40,333.47H76.60" stroke="#2cb9e4" stroke-width="1.8" fill="none"/>
<path d="M94.45,386.75V382.80M90.85,386.75H98.05M90.85,382.80H98.05" stroke="#2cb9e4" stroke-width="1.8" fill="none"/>
<path d="M115.90,333.47V305.84M112.30,333.47H119.50M112.30,305.84H119.50" stroke="#2cb9e4" stroke-width="1.8" fill="none"/>
<path d="M137.35,335.93V308.80M133.75,335.93H140.95M133.75,308.80H140.95" stroke="#2cb9e4" stroke-width="1.8" fill="none"/>
<path d="M158.80,338.40V310.77M155.20,338.40H162.40M155.20,310.77H162.40" stroke="#2cb9e4" stroke-width="1.8" fill="none"/>
<path d="M180.25,378.85V319.16M176.65,378.85H183.85M176.65,319.16H183.85" stroke="#2cb9e4" stroke-width="1.8" fill="none"/>
<path d="M201.70,392.17V343.33M198.10,392.17H205.30M198.10,343.33H205.30" stroke="#2cb9e4" stroke-width="1.8" fill="none"/>
<path d="M223.15,387.73V356.16M219.55,387.73H226.75M219.55,356.16H226.75" stroke="#2cb9e4" stroke-width="1.8" fill="none"/>
<path d="M244.60,371.95V365.04M241.00,371.95H248.20M241.00,365.04H248.20" stroke="#2cb9e4" stroke-width="1.8" fill="none"/>
<path d="M266.05,345.80V335.44M262.45,345.80H269.65M262.45,335.44H269.65" stroke="#2cb9e4" stroke-width="1.8" fill="none"/>
<path d="M73.00,340.87L94.45,384.77L115.90,318.67L137.35,321.13L158.80,326.07L180.25,349.75L201.70,368.49L223.15,373.43L244.60,368.49L266.05,340.87" stroke="#2cb9e4" stroke-width="2.0" fill="none" stroke-linejoin="round"/>
<circle cx="73.00" cy="340.87" r="2.97" fill="#2cb9e4"/>
<circle cx="94.45" cy="384.77" r="2.97" fill="#2cb9e4"/>
<circle cx="115.90" cy="318.67" r="2.97" fill="#2cb9e4"/>
<circle cx="137.35" cy="321.13" r="2.97" fill="#2cb9e4"/>
<circle cx="158.80" cy="326.07" r="2.97" fill="#2cb9e4"/>
<circle cx="180.25" cy="349.75" r="2.97" fill="#2cb9e4"/>
<circle cx="201.70" cy="368.49" r="2.97" fill="#2cb9e4"/>
<circle cx="223.15" cy="373.43" r="2.97" fill="#2cb9e4"/>
<circle cx="244.60" cy="368.49" r="2.97" fill="#2cb9e4"/>
<circle cx="266.05" cy="340.87" r="2.97" fill="#2cb9e4"/>
<path d="M73.00,352.71V333.47M69.40,352.71H76.60M69.40,333.47H76.60" stroke="#131a56" stroke-width="1.8" fill="none"/>
<path d="M94.45,386.75V382.80M90.85,386.75H98.05M90.85,382.80H98.05" stroke="#131a56" stroke-width="1.8" fill="none"/>
<path d="M115.90,335.44V307.32M112.30,335.44H119.50M112.30,307.32H119.50" stroke="#131a56" stroke-width="1.8" fill="none"/>
<path d="M137.35,334.45V305.84M133.75,334.45H140.95M133.75,305.84H140.95" stroke="#131a56" stroke-width="1.8" fill="none"/>
<path d="M158.80,338.40V313.73M155.20,338.40H162.40M155.20,313.73H162.40" stroke="#131a56" stroke-width="1.8" fill="none"/>
<path d="M180.25,361.59V312.25M176.65,361.59H183.85M176.65,312.25H183.85" stroke="#131a56" stroke-width="1.8" fill="none"/>
<path d="M201.70,375.89V323.60M198.10,375.89H205.30M198.10,323.60H205.30" stroke="#131a56" stroke-width="1.8" fill="none"/>
<path d="M223.15,379.84V345.80M219.55,379.84H226.75M219.55,345.80H226.75" stroke="#131a56" stroke-width="1.8" fill="none"/>
<path d="M244.60,371.95V365.04M241.00,371.95H248.20M241.00,365.04H248.20" stroke="#131a56" stroke-width="1.8" fill="none"/>
<path d="M266.05,345.80V335.44M262.45,345.80H269.65M262.45,335.44H269.65" stroke="#131a56" stroke-width="1.8" fill="none"/>
<path d="M73.00,343.33L94.45,384.77L115.90,321.38L137.35,320.89L158.80,325.08L180.25,337.41L201.70,350.24L223.15,363.07L244.60,368.49L266.05,340.87" stroke="#131a56" stroke-width="2.0" fill="none" stroke-linejoin="round"/>
<path d="M73.00,339.81L76.70,345.97L69.30,345.97Z" fill="#131a56"/>
<path d="M94.45,381.25L98.15,387.41L90.75,387.41Z" fill="#131a56"/>
<path d="M115.90,317.86L119.60,324.02L112.20,324.02Z" fill="#131a56"/>
<path d="M137.35,317.37L141.05,323.53L133.65,323.53Z" fill="#131a56"/>
<path d="M158.80,321.56L162.50,327.72L155.10,327.72Z" fill="#131a56"/>
<path d="M180.25,333.89L183.95,340.05L176.55,340.05Z" fill="#131a56"/>
<path d="M201.70,346.72L205.40,352.88L198.00,352.88Z" fill="#131a56"/>
<path d="M223.15,359.55L226.85,365.71L219.45,365.71Z" fill="#131a56"/>
<path d="M244.60,364.97L248.30,371.13L240.90,371.13Z" fill="#131a56"/>
<path d="M266.05,337.35L269.75,343.51L262.35,343.51Z" fill="#131a56"/>
<path d="M73.00,346.29V333.47M69.40,346.29H76.60M69.40,333.47H76.60" stroke="#45b048" stroke-width="1.8" fill="none"/>
<path d="M94.45,386.75V382.80M90.85,386.75H98.05M90.85,382.80H98.05" stroke="#45b048" stroke-width="1.8" fill="none"/>
<path d="M115.90,387.73V375.89M112.30,387.73H119.50M112.30,375.89H119.50" stroke="#45b048" stroke-width="1.8" fill="none"/>
<path d="M137.35,388.23V375.89M133.75,388.23H140.95M133.75,375.89H140.95" stroke="#45b048" stroke-width="1.8" fill="none"/>
<path d="M158.80,387.73V382.80M155.20,387.73H162.40M155.20,382.80H162.40" stroke="#45b048" stroke-width="1.8" fill="none"/>
<path d="M180.25,387.73V382.80M176.65,387.73H183.85M176.65,382.80H183.85" stroke="#45b048" stroke-width="1.8" fill="none"/>
<path d="M201.70,390.69V380.33M198.10,390.69H205.30M198.10,380.33H205.30" stroke="#45b048" stroke-width="1.8" fill="none"/>
<path d="M223.15,388.23V382.31M219.55,388.23H226.75M219.55,382.31H226.75" stroke="#45b048" stroke-width="1.8" fill="none"/>
<path d="M244.60,372.93V365.04M241.00,372.93H248.20M241.00,365.04H248.20" stroke="#45b048" stroke-width="1.8" fill="none"/>
<path d="M266.05,345.80V333.96M262.45,345.80H269.65M262.45,333.96H269.65" stroke="#45b048" stroke-width="1.8" fill="none"/>
<path d="M73.00,339.39L94.45,384.77L115.90,381.32L137.35,382.80L158.80,385.27L180.25,385.27L201.70,385.27L223.15,385.27L244.60,368.49L266.05,339.39" stroke="#78b640" stroke-width="2.0" fill="none" stroke-linejoin="round"/>
<rect x="69.97" y="336.36" width="6.05" height="6.05" fill="#45b048"/>
<rect x="91.42" y="381.75" width="6.05" height="6.05" fill="#45b048"/>
<rect x="112.88" y="378.30" width="6.05" height="6.05" fill="#45b048"/>
<rect x="134.32" y="379.78" width="6.05" height="6.05" fill="#45b048"/>
<rect x="155.78" y="382.24" width="6.05" height="6.05" fill="#45b048"/>
<rect x="177.22" y="382.24" width="6.05" height="6.05" fill="#45b048"/>
<rect x="198.67" y="382.24" width="6.05" height="6.05" fill="#45b048"/>
<rect x="220.12" y="382.24" width="6.05" height="6.05" fill="#45b048"/>
<rect x="241.57" y="365.47" width="6.05" height="6.05" fill="#45b048"/>
<rect x="263.02" y="336.36" width="6.05" height="6.05" fill="#45b048"/>
<path d="M73.00,344.32V332.48M69.40,344.32H76.60M69.40,332.48H76.60" stroke="#0b7a44" stroke-width="1.8" fill="none"/>
<path d="M94.45,386.75V382.80M90.85,386.75H98.05M90.85,382.80H98.05" stroke="#0b7a44" stroke-width="1.8" fill="none"/>
<path d="M115.90,347.28V316.69M112.30,347.28H119.50M112.30,316.69H119.50" stroke="#0b7a44" stroke-width="1.8" fill="none"/>
<path d="M137.35,388.23V372.93M133.75,388.23H140.95M133.75,372.93H140.95" stroke="#0b7a44" stroke-width="1.8" fill="none"/>
<path d="M158.80,388.23V382.80M155.20,388.23H162.40M155.20,382.80H162.40" stroke="#0b7a44" stroke-width="1.8" fill="none"/>
<path d="M180.25,388.23V382.80M176.65,388.23H183.85M176.65,382.80H183.85" stroke="#0b7a44" stroke-width="1.8" fill="none"/>
<path d="M201.70,388.23V382.80M198.10,388.23H205.30M198.10,382.80H205.30" stroke="#0b7a44" stroke-width="1.8" fill="none"/>
<path d="M223.15,388.23V382.31M219.55,388.23H226.75M219.55,382.31H226.75" stroke="#0b7a44" stroke-width="1.8" fill="none"/>
<path d="M244.60,372.93V365.53M241.00,372.93H248.20M241.00,365.53H248.20" stroke="#0b7a44" stroke-width="1.8" fill="none"/>
<path d="M266.05,343.33V334.45M262.45,343.33H269.65M262.45,334.45H269.65" stroke="#0b7a44" stroke-width="1.8" fill="none"/>
<path d="M73.00,338.40L94.45,384.77L115.90,334.45L137.35,380.83L158.80,385.27L180.25,385.27L201.70,385.27L223.15,384.77L244.60,369.23L266.05,338.40" stroke="#0b7a44" stroke-width="2.0" fill="none" stroke-linejoin="round"/>
<path d="M73.00,341.92L76.70,335.76L69.30,335.76Z" fill="#0b7a44"/>
<path d="M94.45,388.29L98.15,382.13L90.75,382.13Z" fill="#0b7a44"/>
<path d="M115.90,337.97L119.60,331.81L112.20,331.81Z" fill="#0b7a44"/>
<path d="M137.35,384.35L141.05,378.19L133.65,378.19Z" fill="#0b7a44"/>
<path d="M158.80,388.79L162.50,382.63L155.10,382.63Z" fill="#0b7a44"/>
<path d="M180.25,388.79L183.95,382.63L176.55,382.63Z" fill="#0b7a44"/>
<path d="M201.70,388.79L205.40,382.63L198.00,382.63Z" fill="#0b7a44"/>
<path d="M223.15,388.29L226.85,382.13L219.45,382.13Z" fill="#0b7a44"/>
<path d="M244.60,372.75L248.30,366.59L240.90,366.59Z" fill="#0b7a44"/>
<path d="M266.05,341.92L269.75,335.76L262.35,335.76Z" fill="#0b7a44"/>
<path d="M347.4,397.8V250.0H568.9V397.8" fill="none" stroke="#000" stroke-width="2.0"/>
<line x1="341.2" y1="397.8" x2="569.9" y2="397.8" stroke="#000" stroke-width="2.0"/>
<line x1="341.2" y1="397.80" x2="347.4" y2="397.80" stroke="#000" stroke-width="2.0"/>
<text transform="translate(338.60,402.90) scale(1,1.1)" font-size="13.6" text-anchor="end" font-weight="bold" fill="#000" stroke="#000" stroke-width="0.3" >0</text>
<line x1="341.2" y1="348.53" x2="347.4" y2="348.53" stroke="#000" stroke-width="2.0"/>
<text transform="translate(338.60,353.63) scale(1,1.1)" font-size="13.6" text-anchor="end" font-weight="bold" fill="#000" stroke="#000" stroke-width="0.3" >10</text>
<line x1="341.2" y1="299.27" x2="347.4" y2="299.27" stroke="#000" stroke-width="2.0"/>
<text transform="translate(338.60,304.37) scale(1,1.1)" font-size="13.6" text-anchor="end" font-weight="bold" fill="#000" stroke="#000" stroke-width="0.3" >20</text>
<line x1="341.2" y1="250.00" x2="347.4" y2="250.00" stroke="#000" stroke-width="2.0"/>
<text transform="translate(338.60,255.10) scale(1,1.1)" font-size="13.6" text-anchor="end" font-weight="bold" fill="#000" stroke="#000" stroke-width="0.3" >30</text>
<line x1="363.00" y1="397.8" x2="363.00" y2="404.0" stroke="#000" stroke-width="2.0"/>
<text transform="translate(363.00,420.30) scale(1,1.1)" font-size="13.6" text-anchor="middle" font-weight="bold" fill="#000" stroke="#000" stroke-width="0.3" >pre</text>
<line x1="386.79" y1="397.8" x2="386.79" y2="404.0" stroke="#000" stroke-width="2.0"/>
<text transform="translate(386.79,420.30) scale(1,1.1)" font-size="13.6" text-anchor="middle" font-weight="bold" fill="#000" stroke="#000" stroke-width="0.3" >0</text>
<line x1="410.58" y1="397.8" x2="410.58" y2="404.0" stroke="#000" stroke-width="2.0"/>
<text transform="translate(410.58,420.30) scale(1,1.1)" font-size="13.6" text-anchor="middle" font-weight="bold" fill="#000" stroke="#000" stroke-width="0.3" >24</text>
<line x1="434.37" y1="397.8" x2="434.37" y2="404.0" stroke="#000" stroke-width="2.0"/>
<text transform="translate(434.37,420.30) scale(1,1.1)" font-size="13.6" text-anchor="middle" font-weight="bold" fill="#000" stroke="#000" stroke-width="0.3" >48</text>
<line x1="458.16" y1="397.8" x2="458.16" y2="404.0" stroke="#000" stroke-width="2.0"/>
<text transform="translate(458.16,420.30) scale(1,1.1)" font-size="13.6" text-anchor="middle" font-weight="bold" fill="#000" stroke="#000" stroke-width="0.3" >54</text>
<line x1="481.95" y1="397.8" x2="481.95" y2="404.0" stroke="#000" stroke-width="2.0"/>
<text transform="translate(481.95,420.30) scale(1,1.1)" font-size="13.6" text-anchor="middle" font-weight="bold" fill="#000" stroke="#000" stroke-width="0.3" >60</text>
<line x1="505.74" y1="397.8" x2="505.74" y2="404.0" stroke="#000" stroke-width="2.0"/>
<text transform="translate(505.74,420.30) scale(1,1.1)" font-size="13.6" text-anchor="middle" font-weight="bold" fill="#000" stroke="#000" stroke-width="0.3" >66</text>
<line x1="529.53" y1="397.8" x2="529.53" y2="404.0" stroke="#000" stroke-width="2.0"/>
<text transform="translate(529.53,420.30) scale(1,1.1)" font-size="13.6" text-anchor="middle" font-weight="bold" fill="#000" stroke="#000" stroke-width="0.3" >68</text>
<line x1="553.32" y1="397.8" x2="553.32" y2="404.0" stroke="#000" stroke-width="2.0"/>
<text transform="translate(553.32,420.30) scale(1,1.1)" font-size="13.6" text-anchor="middle" font-weight="bold" fill="#000" stroke="#000" stroke-width="0.3" >168</text>
<text transform="translate(282.00,238.50) scale(1,1.04)" font-size="16.2" text-anchor="start" font-weight="bold" fill="#000" stroke="#000" stroke-width="0.3" >E</text>
<text transform="translate(305.80,427.70) rotate(-90)" x="0" y="0" font-size="12.9" font-weight="bold" stroke="#000" stroke-width="0.3" textLength="185.1" lengthAdjust="spacingAndGlyphs">Paw Withdrawal Latency (s)</text>
<text transform="translate(458.15,442.40) scale(1,1.1)" font-size="13.6" text-anchor="middle" font-weight="bold" fill="#000" stroke="#000" stroke-width="0.3" >Time (h)</text>
<line x1="373.0" y1="260.3" x2="389.9" y2="260.3" stroke="#131a56" stroke-width="1.5"/>
<circle cx="381.45" cy="260.30" r="2.70" fill="#131a56"/>
<text transform="translate(399.00,265.40) scale(1,1.1)" font-size="13.7" text-anchor="start" font-weight="bold" fill="#000" stroke="#000" stroke-width="0.3" >RDLP</text>
<line x1="373.0" y1="276.0" x2="389.9" y2="276.0" stroke="#c8141f" stroke-width="1.5"/>
<path d="M381.45,272.80L384.81,278.40L378.09,278.40Z" fill="#c8141f"/>
<text transform="translate(399.00,280.80) scale(1,1.1)" font-size="13.7" text-anchor="start" font-weight="bold" fill="#000" stroke="#000" stroke-width="0.3" >RDLP+US</text>
<line x1="473.5" y1="260.3" x2="490.1" y2="260.3" stroke="#12b2ec" stroke-width="1.5"/>
<rect x="479.05" y="257.55" width="5.50" height="5.50" fill="#12b2ec"/>
<text transform="translate(498.30,265.60) scale(1,1.1)" font-size="13.7" text-anchor="start" font-weight="bold" fill="#000" stroke="#000" stroke-width="0.3" >RDL+US</text>
<ellipse cx="406.08" cy="296.70" rx="1.8" ry="1.5" fill="#000"/>
<ellipse cx="410.58" cy="296.70" rx="1.8" ry="1.5" fill="#000"/>
<ellipse cx="415.08" cy="296.70" rx="1.8" ry="1.5" fill="#000"/>
<ellipse cx="429.87" cy="296.70" rx="1.8" ry="1.5" fill="#000"/>
<ellipse cx="434.37" cy="296.70" rx="1.8" ry="1.5" fill="#000"/>
<ellipse cx="438.87" cy="296.70" rx="1.8" ry="1.5" fill="#000"/>
<ellipse cx="453.66" cy="296.70" rx="1.8" ry="1.5" fill="#000"/>
<ellipse cx="458.16" cy="296.70" rx="1.8" ry="1.5" fill="#000"/>
<ellipse cx="462.66" cy="296.70" rx="1.8" ry="1.5" fill="#000"/>
<ellipse cx="477.45" cy="296.70" rx="1.8" ry="1.5" fill="#000"/>
<ellipse cx="481.95" cy="296.70" rx="1.8" ry="1.5" fill="#000"/>
<ellipse cx="486.45" cy="296.70" rx="1.8" ry="1.5" fill="#000"/>
<ellipse cx="501.24" cy="296.70" rx="1.8" ry="1.5" fill="#000"/>
<ellipse cx="505.74" cy="296.70" rx="1.8" ry="1.5" fill="#000"/>
<ellipse cx="510.24" cy="296.70" rx="1.8" ry="1.5" fill="#000"/>
<ellipse cx="525.03" cy="296.70" rx="1.8" ry="1.5" fill="#000"/>
<ellipse cx="529.53" cy="296.70" rx="1.8" ry="1.5" fill="#000"/>
<ellipse cx="534.03" cy="296.70" rx="1.8" ry="1.5" fill="#000"/>
<path d="M454.46,310.80L453.06,315.80M455.86,310.80L454.46,315.80M452.86,312.35H456.26M452.46,314.25H455.86M458.26,310.80L456.86,315.80M459.66,310.80L458.26,315.80M456.66,312.35H460.06M456.26,314.25H459.66M462.06,310.80L460.66,315.80M463.46,310.80L462.06,315.80M460.46,312.35H463.86M460.06,314.25H463.46" stroke="#3a3a3a" stroke-width="0.95" fill="none"/>
<path d="M482.05,310.80L480.65,315.80M483.45,310.80L482.05,315.80M480.45,312.35H483.85M480.05,314.25H483.45" stroke="#3a3a3a" stroke-width="0.95" fill="none"/>
<path d="M502.04,310.80L500.64,315.80M503.44,310.80L502.04,315.80M500.44,312.35H503.84M500.04,314.25H503.44M505.84,310.80L504.44,315.80M507.24,310.80L505.84,315.80M504.24,312.35H507.64M503.84,314.25H507.24M509.64,310.80L508.24,315.80M511.04,310.80L509.64,315.80M508.04,312.35H511.44M507.64,314.25H511.04" stroke="#3a3a3a" stroke-width="0.95" fill="none"/>
<path d="M529.63,310.80L528.23,315.80M531.03,310.80L529.63,315.80M528.03,312.35H531.43M527.63,314.25H531.03" stroke="#3a3a3a" stroke-width="0.95" fill="none"/>
<line x1="445.80" y1="306.00" x2="439.22" y2="319.42" stroke="#474747" stroke-width="2.3"/>
<path d="M435.70,326.60L436.33,315.77L443.87,319.47Z" fill="#474747"/>
<line x1="496.80" y1="306.00" x2="490.22" y2="319.42" stroke="#474747" stroke-width="2.3"/>
<path d="M486.70,326.60L487.33,315.77L494.87,319.47Z" fill="#474747"/>
<path d="M363.00,339.67V320.94M359.40,339.67H366.60M359.40,320.94H366.60" stroke="#131a56" stroke-width="1.6" fill="none"/>
<path d="M386.79,388.93V381.05M383.19,388.93H390.39M383.19,381.05H390.39" stroke="#131a56" stroke-width="1.6" fill="none"/>
<path d="M410.58,342.13V318.97M406.98,342.13H414.18M406.98,318.97H414.18" stroke="#131a56" stroke-width="1.6" fill="none"/>
<path d="M434.37,370.21V358.88M430.77,370.21H437.97M430.77,358.88H437.97" stroke="#131a56" stroke-width="1.6" fill="none"/>
<path d="M458.16,386.96V373.17M454.56,386.96H461.76M454.56,373.17H461.76" stroke="#131a56" stroke-width="1.6" fill="none"/>
<path d="M481.95,389.92V383.51M478.35,389.92H485.55M478.35,383.51H485.55" stroke="#131a56" stroke-width="1.6" fill="none"/>
<path d="M505.74,389.92V384.01M502.14,389.92H509.34M502.14,384.01H509.34" stroke="#131a56" stroke-width="1.6" fill="none"/>
<path d="M529.53,382.03V372.18M525.93,382.03H533.13M525.93,372.18H533.13" stroke="#131a56" stroke-width="1.6" fill="none"/>
<path d="M553.32,352.97V341.14M549.72,352.97H556.92M549.72,341.14H556.92" stroke="#131a56" stroke-width="1.6" fill="none"/>
<path d="M363.00,329.32L386.79,384.99L410.58,331.29L434.37,364.79L458.16,381.05L481.95,386.96L505.74,386.96L529.53,376.12L553.32,347.55" stroke="#131a56" stroke-width="1.7" fill="none" stroke-linejoin="round"/>
<circle cx="363.00" cy="329.32" r="2.97" fill="#131a56"/>
<circle cx="386.79" cy="384.99" r="2.97" fill="#131a56"/>
<circle cx="410.58" cy="331.29" r="2.97" fill="#131a56"/>
<circle cx="434.37" cy="364.79" r="2.97" fill="#131a56"/>
<circle cx="458.16" cy="381.05" r="2.97" fill="#131a56"/>
<circle cx="481.95" cy="386.96" r="2.97" fill="#131a56"/>
<circle cx="505.74" cy="386.96" r="2.97" fill="#131a56"/>
<circle cx="529.53" cy="376.12" r="2.97" fill="#131a56"/>
<circle cx="553.32" cy="347.55" r="2.97" fill="#131a56"/>
<path d="M363.00,336.22V325.87M359.40,336.22H366.60M359.40,325.87H366.60" stroke="#12b2ec" stroke-width="1.6" fill="none"/>
<path d="M386.79,386.96V381.05M383.19,386.96H390.39M383.19,381.05H390.39" stroke="#12b2ec" stroke-width="1.6" fill="none"/>
<path d="M410.58,387.95V378.09M406.98,387.95H414.18M406.98,378.09H414.18" stroke="#12b2ec" stroke-width="1.6" fill="none"/>
<path d="M434.37,387.45V380.06M430.77,387.45H437.97M430.77,380.06H437.97" stroke="#12b2ec" stroke-width="1.6" fill="none"/>
<path d="M458.16,383.51V377.11M454.56,383.51H461.76M454.56,377.11H461.76" stroke="#12b2ec" stroke-width="1.6" fill="none"/>
<path d="M481.95,386.96V378.09M478.35,386.96H485.55M478.35,378.09H485.55" stroke="#12b2ec" stroke-width="1.6" fill="none"/>
<path d="M505.74,387.95V378.09M502.14,387.95H509.34M502.14,378.09H509.34" stroke="#12b2ec" stroke-width="1.6" fill="none"/>
<path d="M529.53,381.54V373.17M525.93,381.54H533.13M525.93,373.17H533.13" stroke="#12b2ec" stroke-width="1.6" fill="none"/>
<path d="M553.32,351.00V338.68M549.72,351.00H556.92M549.72,338.68H556.92" stroke="#12b2ec" stroke-width="1.6" fill="none"/>
<path d="M363.00,330.80L386.79,384.01L410.58,384.01L434.37,384.01L458.16,381.05L481.95,383.02L505.74,383.51L529.53,377.11L553.32,345.08" stroke="#12b2ec" stroke-width="1.7" fill="none" stroke-linejoin="round"/>
<rect x="359.98" y="327.77" width="6.05" height="6.05" fill="#12b2ec"/>
<rect x="383.77" y="380.98" width="6.05" height="6.05" fill="#12b2ec"/>
<rect x="407.56" y="380.98" width="6.05" height="6.05" fill="#12b2ec"/>
<rect x="431.35" y="380.98" width="6.05" height="6.05" fill="#12b2ec"/>
<rect x="455.13" y="378.02" width="6.05" height="6.05" fill="#12b2ec"/>
<rect x="478.93" y="380.00" width="6.05" height="6.05" fill="#12b2ec"/>
<rect x="502.72" y="380.49" width="6.05" height="6.05" fill="#12b2ec"/>
<rect x="526.50" y="374.08" width="6.05" height="6.05" fill="#12b2ec"/>
<rect x="550.29" y="342.06" width="6.05" height="6.05" fill="#12b2ec"/>
<path d="M363.00,342.13V322.42M359.40,342.13H366.60M359.40,322.42H366.60" stroke="#c8141f" stroke-width="1.6" fill="none"/>
<path d="M386.79,391.40V382.53M383.19,391.40H390.39M383.19,382.53H390.39" stroke="#c8141f" stroke-width="1.6" fill="none"/>
<path d="M410.58,344.59V329.81M406.98,344.59H414.18M406.98,329.81H414.18" stroke="#c8141f" stroke-width="1.6" fill="none"/>
<path d="M434.37,367.25V354.94M430.77,367.25H437.97M430.77,354.94H437.97" stroke="#c8141f" stroke-width="1.6" fill="none"/>
<path d="M458.16,354.94V338.68M454.56,354.94H461.76M454.56,338.68H461.76" stroke="#c8141f" stroke-width="1.6" fill="none"/>
<path d="M481.95,384.50V365.53M478.35,384.50H485.55M478.35,365.53H485.55" stroke="#c8141f" stroke-width="1.6" fill="none"/>
<path d="M505.74,371.69V339.67M502.14,371.69H509.34M502.14,339.67H509.34" stroke="#c8141f" stroke-width="1.6" fill="none"/>
<path d="M529.53,379.08V364.30M525.93,379.08H533.13M525.93,364.30H533.13" stroke="#c8141f" stroke-width="1.6" fill="none"/>
<path d="M553.32,349.03V331.78M549.72,349.03H556.92M549.72,331.78H556.92" stroke="#c8141f" stroke-width="1.6" fill="none"/>
<path d="M363.00,334.25L386.79,386.96L410.58,338.68L434.37,361.34L458.16,347.06L481.95,376.12L505.74,356.42L529.53,373.17L553.32,339.81" stroke="#c8141f" stroke-width="1.7" fill="none" stroke-linejoin="round"/>
<path d="M363.00,330.73L366.70,336.89L359.30,336.89Z" fill="#c8141f"/>
<path d="M386.79,383.44L390.49,389.60L383.09,389.60Z" fill="#c8141f"/>
<path d="M410.58,335.16L414.28,341.32L406.88,341.32Z" fill="#c8141f"/>
<path d="M434.37,357.82L438.07,363.98L430.67,363.98Z" fill="#c8141f"/>
<path d="M458.16,343.54L461.86,349.70L454.46,349.70Z" fill="#c8141f"/>
<path d="M481.95,372.60L485.65,378.76L478.25,378.76Z" fill="#c8141f"/>
<path d="M505.74,352.90L509.44,359.06L502.04,359.06Z" fill="#c8141f"/>
<path d="M529.53,369.65L533.23,375.81L525.83,375.81Z" fill="#c8141f"/>
<path d="M553.32,336.29L557.02,342.45L549.62,342.45Z" fill="#c8141f"/>
<path d="M630.0,397.6V249.8H851.7V397.6" fill="none" stroke="#000" stroke-width="2.0"/>
<line x1="623.8" y1="397.6" x2="852.7" y2="397.6" stroke="#000" stroke-width="2.0"/>
<line x1="623.8" y1="397.60" x2="630.0" y2="397.60" stroke="#000" stroke-width="2.0"/>
<text transform="translate(621.20,402.70) scale(1,1.1)" font-size="13.6" text-anchor="end" font-weight="bold" fill="#000" stroke="#000" stroke-width="0.3" >0</text>
<line x1="623.8" y1="348.33" x2="630.0" y2="348.33" stroke="#000" stroke-width="2.0"/>
<text transform="translate(621.20,353.43) scale(1,1.1)" font-size="13.6" text-anchor="end" font-weight="bold" fill="#000" stroke="#000" stroke-width="0.3" >10</text>
<line x1="623.8" y1="299.07" x2="630.0" y2="299.07" stroke="#000" stroke-width="2.0"/>
<text transform="translate(621.20,304.17) scale(1,1.1)" font-size="13.6" text-anchor="end" font-weight="bold" fill="#000" stroke="#000" stroke-width="0.3" >20</text>
<line x1="623.8" y1="249.80" x2="630.0" y2="249.80" stroke="#000" stroke-width="2.0"/>
<text transform="translate(621.20,254.90) scale(1,1.1)" font-size="13.6" text-anchor="end" font-weight="bold" fill="#000" stroke="#000" stroke-width="0.3" >30</text>
<line x1="640.60" y1="397.6" x2="640.60" y2="403.8" stroke="#000" stroke-width="2.0"/>
<text transform="translate(640.60,420.10) scale(1,1.1)" font-size="13.6" text-anchor="middle" font-weight="bold" fill="#000" stroke="#000" stroke-width="0.3" >pre</text>
<line x1="662.80" y1="397.6" x2="662.80" y2="403.8" stroke="#000" stroke-width="2.0"/>
<text transform="translate(662.80,420.10) scale(1,1.1)" font-size="13.6" text-anchor="middle" font-weight="bold" fill="#000" stroke="#000" stroke-width="0.3" >0</text>
<line x1="685.00" y1="397.6" x2="685.00" y2="403.8" stroke="#000" stroke-width="2.0"/>
<text transform="translate(685.00,420.10) scale(1,1.1)" font-size="13.6" text-anchor="middle" font-weight="bold" fill="#000" stroke="#000" stroke-width="0.3" >3</text>
<line x1="707.20" y1="397.6" x2="707.20" y2="403.8" stroke="#000" stroke-width="2.0"/>
<text transform="translate(707.20,420.10) scale(1,1.1)" font-size="13.6" text-anchor="middle" font-weight="bold" fill="#000" stroke="#000" stroke-width="0.3" >6</text>
<line x1="729.40" y1="397.6" x2="729.40" y2="403.8" stroke="#000" stroke-width="2.0"/>
<text transform="translate(729.40,420.10) scale(1,1.1)" font-size="13.6" text-anchor="middle" font-weight="bold" fill="#000" stroke="#000" stroke-width="0.3" >9</text>
<line x1="751.60" y1="397.6" x2="751.60" y2="403.8" stroke="#000" stroke-width="2.0"/>
<text transform="translate(751.60,420.10) scale(1,1.1)" font-size="13.6" text-anchor="middle" font-weight="bold" fill="#000" stroke="#000" stroke-width="0.3" >12</text>
<line x1="773.80" y1="397.6" x2="773.80" y2="403.8" stroke="#000" stroke-width="2.0"/>
<text transform="translate(773.80,420.10) scale(1,1.1)" font-size="13.6" text-anchor="middle" font-weight="bold" fill="#000" stroke="#000" stroke-width="0.3" >36</text>
<line x1="796.00" y1="397.6" x2="796.00" y2="403.8" stroke="#000" stroke-width="2.0"/>
<text transform="translate(796.00,420.10) scale(1,1.1)" font-size="13.6" text-anchor="middle" font-weight="bold" fill="#000" stroke="#000" stroke-width="0.3" >48</text>
<line x1="818.20" y1="397.6" x2="818.20" y2="403.8" stroke="#000" stroke-width="2.0"/>
<text transform="translate(818.20,420.10) scale(1,1.1)" font-size="13.6" text-anchor="middle" font-weight="bold" fill="#000" stroke="#000" stroke-width="0.3" >72</text>
<line x1="840.40" y1="397.6" x2="840.40" y2="403.8" stroke="#000" stroke-width="2.0"/>
<text transform="translate(840.40,420.10) scale(1,1.1)" font-size="13.6" text-anchor="middle" font-weight="bold" fill="#000" stroke="#000" stroke-width="0.3" >168</text>
<text transform="translate(564.30,238.50) scale(1,1.04)" font-size="16.2" text-anchor="start" font-weight="bold" fill="#000" stroke="#000" stroke-width="0.3" >F</text>
<text transform="translate(587.80,427.70) rotate(-90)" x="0" y="0" font-size="12.9" font-weight="bold" stroke="#000" stroke-width="0.3" textLength="185.1" lengthAdjust="spacingAndGlyphs">Paw Withdrawal Latency (s)</text>
<text transform="translate(740.85,442.40) scale(1,1.1)" font-size="13.6" text-anchor="middle" font-weight="bold" fill="#000" stroke="#000" stroke-width="0.3" >Time (h)</text>
<line x1="655.5" y1="260.9" x2="672.2" y2="260.9" stroke="#45b048" stroke-width="1.5"/>
<circle cx="663.85" cy="260.90" r="2.70" fill="#45b048"/>
<text transform="translate(681.00,266.00) scale(1,1.1)" font-size="13.7" text-anchor="start" font-weight="bold" fill="#000" stroke="#000" stroke-width="0.3" >PBS</text>
<line x1="655.5" y1="276.0" x2="672.2" y2="276.0" stroke="#12b2ec" stroke-width="1.5"/>
<rect x="661.10" y="273.25" width="5.50" height="5.50" fill="#12b2ec"/>
<text transform="translate(681.00,281.00) scale(1,1.1)" font-size="13.7" text-anchor="start" font-weight="bold" fill="#000" stroke="#000" stroke-width="0.3" >RDP</text>
<line x1="744.9" y1="260.3" x2="761.8" y2="260.3" stroke="#505050" stroke-width="1.5"/>
<path d="M753.35,257.74L756.04,262.22L750.66,262.22Z" fill="#505050"/>
<text transform="translate(770.60,265.40) scale(1,1.1)" font-size="13.7" text-anchor="start" font-weight="bold" fill="#000" stroke="#000" stroke-width="0.3" >PBS+US</text>
<line x1="699.90" y1="310.60" x2="693.61" y2="323.06" stroke="#474747" stroke-width="2.3"/>
<path d="M690.00,330.20L690.76,319.38L698.26,323.17Z" fill="#474747"/>
<line x1="723.70" y1="310.60" x2="717.05" y2="323.13" stroke="#474747" stroke-width="2.3"/>
<path d="M713.30,330.20L714.28,319.40L721.70,323.34Z" fill="#474747"/>
<line x1="743.80" y1="310.60" x2="737.58" y2="323.04" stroke="#474747" stroke-width="2.3"/>
<path d="M734.00,330.20L734.72,319.38L742.23,323.13Z" fill="#474747"/>
<line x1="764.00" y1="310.60" x2="757.42" y2="323.12" stroke="#474747" stroke-width="2.3"/>
<path d="M753.70,330.20L754.63,319.39L762.07,323.30Z" fill="#474747"/>
<line x1="783.90" y1="310.60" x2="777.32" y2="323.12" stroke="#474747" stroke-width="2.3"/>
<path d="M773.60,330.20L774.53,319.39L781.97,323.30Z" fill="#474747"/>
<line x1="803.40" y1="310.60" x2="797.11" y2="323.06" stroke="#474747" stroke-width="2.3"/>
<path d="M793.50,330.20L794.26,319.38L801.76,323.17Z" fill="#474747"/>
<path d="M640.60,349.32V335.52M637.00,349.32H644.20M637.00,335.52H644.20" stroke="#505050" stroke-width="1.4" fill="none"/>
<path d="M662.80,388.24V378.68M659.20,388.24H666.40M659.20,378.68H666.40" stroke="#505050" stroke-width="1.4" fill="none"/>
<path d="M685.00,387.75V382.82M681.40,387.75H688.60M681.40,382.82H688.60" stroke="#505050" stroke-width="1.4" fill="none"/>
<path d="M707.20,387.75V382.33M703.60,387.75H710.80M703.60,382.33H710.80" stroke="#505050" stroke-width="1.4" fill="none"/>
<path d="M729.40,387.75V381.83M725.80,387.75H733.00M725.80,381.83H733.00" stroke="#505050" stroke-width="1.4" fill="none"/>
<path d="M751.60,387.75V382.82M748.00,387.75H755.20M748.00,382.82H755.20" stroke="#505050" stroke-width="1.4" fill="none"/>
<path d="M773.80,388.24V382.33M770.20,388.24H777.40M770.20,382.33H777.40" stroke="#505050" stroke-width="1.4" fill="none"/>
<path d="M796.00,388.73V382.82M792.40,388.73H799.60M792.40,382.82H799.60" stroke="#505050" stroke-width="1.4" fill="none"/>
<path d="M818.20,384.79V376.91M814.60,384.79H821.80M814.60,376.91H821.80" stroke="#505050" stroke-width="1.4" fill="none"/>
<path d="M840.40,350.30V333.55M836.80,350.30H844.00M836.80,333.55H844.00" stroke="#505050" stroke-width="1.4" fill="none"/>
<path d="M640.60,341.93L662.80,384.79L685.00,385.28L707.20,385.28L729.40,385.28L751.60,385.28L773.80,385.28L796.00,385.78L818.20,379.37L840.40,340.45" stroke="#505050" stroke-width="1.3" fill="none" stroke-linejoin="round"/>
<path d="M640.60,339.37L643.29,343.85L637.91,343.85Z" fill="#505050"/>
<path d="M662.80,382.23L665.49,386.71L660.11,386.71Z" fill="#505050"/>
<path d="M685.00,382.72L687.69,387.20L682.31,387.20Z" fill="#505050"/>
<path d="M707.20,382.72L709.89,387.20L704.51,387.20Z" fill="#505050"/>
<path d="M729.40,382.72L732.09,387.20L726.71,387.20Z" fill="#505050"/>
<path d="M751.60,382.72L754.29,387.20L748.91,387.20Z" fill="#505050"/>
<path d="M773.80,382.72L776.49,387.20L771.11,387.20Z" fill="#505050"/>
<path d="M796.00,383.22L798.69,387.70L793.31,387.70Z" fill="#505050"/>
<path d="M818.20,376.81L820.89,381.29L815.51,381.29Z" fill="#505050"/>
<path d="M840.40,337.89L843.09,342.37L837.71,342.37Z" fill="#505050"/>
<path d="M640.60,350.30V336.51M637.00,350.30H644.20M637.00,336.51H644.20" stroke="#12b2ec" stroke-width="1.5" fill="none"/>
<path d="M662.80,387.75V382.82M659.20,387.75H666.40M659.20,382.82H666.40" stroke="#12b2ec" stroke-width="1.5" fill="none"/>
<path d="M685.00,387.25V383.31M681.40,387.25H688.60M681.40,383.31H688.60" stroke="#12b2ec" stroke-width="1.5" fill="none"/>
<path d="M707.20,386.76V380.36M703.60,386.76H710.80M703.60,380.36H710.80" stroke="#12b2ec" stroke-width="1.5" fill="none"/>
<path d="M729.40,387.75V382.82M725.80,387.75H733.00M725.80,382.82H733.00" stroke="#12b2ec" stroke-width="1.5" fill="none"/>
<path d="M751.60,387.25V379.37M748.00,387.25H755.20M748.00,379.37H755.20" stroke="#12b2ec" stroke-width="1.5" fill="none"/>
<path d="M773.80,389.72V380.36M770.20,389.72H777.40M770.20,380.36H777.40" stroke="#12b2ec" stroke-width="1.5" fill="none"/>
<path d="M796.00,387.75V382.82M792.40,387.75H799.60M792.40,382.82H799.60" stroke="#12b2ec" stroke-width="1.5" fill="none"/>
<path d="M818.20,378.39V372.97M814.60,378.39H821.80M814.60,372.97H821.80" stroke="#12b2ec" stroke-width="1.5" fill="none"/>
<path d="M840.40,344.88V333.55M836.80,344.88H844.00M836.80,333.55H844.00" stroke="#12b2ec" stroke-width="1.5" fill="none"/>
<path d="M640.60,343.41L662.80,385.28L685.00,385.28L707.20,383.81L729.40,385.28L751.60,383.31L773.80,385.28L796.00,385.78L818.20,375.43L840.40,340.94" stroke="#12b2ec" stroke-width="1.6" fill="none" stroke-linejoin="round"/>
<rect x="637.58" y="340.38" width="6.05" height="6.05" fill="#12b2ec"/>
<rect x="659.78" y="382.26" width="6.05" height="6.05" fill="#12b2ec"/>
<rect x="681.98" y="382.26" width="6.05" height="6.05" fill="#12b2ec"/>
<rect x="704.18" y="380.78" width="6.05" height="6.05" fill="#12b2ec"/>
<rect x="726.38" y="382.26" width="6.05" height="6.05" fill="#12b2ec"/>
<rect x="748.58" y="380.29" width="6.05" height="6.05" fill="#12b2ec"/>
<rect x="770.77" y="382.26" width="6.05" height="6.05" fill="#12b2ec"/>
<rect x="792.98" y="382.75" width="6.05" height="6.05" fill="#12b2ec"/>
<rect x="815.18" y="372.41" width="6.05" height="6.05" fill="#12b2ec"/>
<rect x="837.38" y="337.92" width="6.05" height="6.05" fill="#12b2ec"/>
<path d="M640.60,348.83V331.09M637.00,348.83H644.20M637.00,331.09H644.20" stroke="#45b048" stroke-width="1.5" fill="none"/>
<path d="M662.80,388.24V382.82M659.20,388.24H666.40M659.20,382.82H666.40" stroke="#45b048" stroke-width="1.5" fill="none"/>
<path d="M685.00,387.75V383.31M681.40,387.75H688.60M681.40,383.31H688.60" stroke="#45b048" stroke-width="1.5" fill="none"/>
<path d="M707.20,388.24V382.82M703.60,388.24H710.80M703.60,382.82H710.80" stroke="#45b048" stroke-width="1.5" fill="none"/>
<path d="M729.40,388.73V381.34M725.80,388.73H733.00M725.80,381.34H733.00" stroke="#45b048" stroke-width="1.5" fill="none"/>
<path d="M751.60,388.24V382.82M748.00,388.24H755.20M748.00,382.82H755.20" stroke="#45b048" stroke-width="1.5" fill="none"/>
<path d="M773.80,390.21V380.36M770.20,390.21H777.40M770.20,380.36H777.40" stroke="#45b048" stroke-width="1.5" fill="none"/>
<path d="M796.00,391.20V383.31M792.40,391.20H799.60M792.40,383.31H799.60" stroke="#45b048" stroke-width="1.5" fill="none"/>
<path d="M818.20,385.28V378.88M814.60,385.28H821.80M814.60,378.88H821.80" stroke="#45b048" stroke-width="1.5" fill="none"/>
<path d="M840.40,350.30V330.60M836.80,350.30H844.00M836.80,330.60H844.00" stroke="#45b048" stroke-width="1.5" fill="none"/>
<path d="M640.60,340.70L662.80,385.78L685.00,385.58L707.20,385.78L729.40,385.78L751.60,385.78L773.80,385.78L796.00,386.27L818.20,381.34L840.40,338.73" stroke="#45b048" stroke-width="1.6" fill="none" stroke-linejoin="round"/>
<circle cx="640.60" cy="340.70" r="2.97" fill="#45b048"/>
<circle cx="662.80" cy="385.78" r="2.97" fill="#45b048"/>
<circle cx="685.00" cy="385.58" r="2.97" fill="#45b048"/>
<circle cx="707.20" cy="385.78" r="2.97" fill="#45b048"/>
<circle cx="729.40" cy="385.78" r="2.97" fill="#45b048"/>
<circle cx="751.60" cy="385.78" r="2.97" fill="#45b048"/>
<circle cx="773.80" cy="385.78" r="2.97" fill="#45b048"/>
<circle cx="796.00" cy="386.27" r="2.97" fill="#45b048"/>
<circle cx="818.20" cy="381.34" r="2.97" fill="#45b048"/>
<circle cx="840.40" cy="338.73" r="2.97" fill="#45b048"/>
</g></svg>
</body></html>
